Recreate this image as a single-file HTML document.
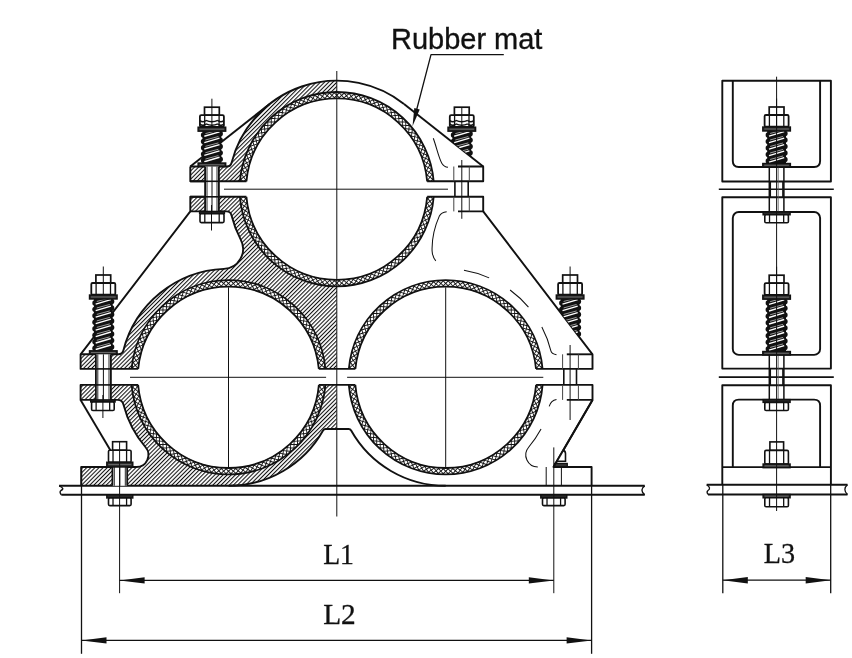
<!DOCTYPE html>
<html><head><meta charset="utf-8"><style>html,body{margin:0;padding:0;background:#fff;width:852px;height:658px;overflow:hidden}</style></head>
<body>
<svg width="852" height="658" viewBox="0 0 852 658" style="display:block;will-change:transform">
<defs>
<pattern id="hatch" width="2.9" height="2.9" patternUnits="userSpaceOnUse" patternTransform="rotate(-45)"><rect width="2.9" height="2.9" fill="#fff"/><rect x="0" y="0" width="2.9" height="1.05" fill="#111"/></pattern>
<pattern id="rub" width="3.46" height="3.46" patternUnits="userSpaceOnUse" patternTransform="rotate(45)"><rect width="3.46" height="3.46" fill="#111"/><rect x="0.55" y="0.55" width="2.36" height="2.36" fill="#fff"/></pattern>
<clipPath id="cTop"><rect x="0" y="0" width="336.8" height="181.3"/></clipPath>
<clipPath id="cMid"><rect x="0" y="196.8" width="336.8" height="172.1"/></clipPath>
<clipPath id="cBot"><rect x="0" y="384.9" width="336.8" height="100.9"/></clipPath>
</defs>
<rect width="852" height="658" fill="#fff"/>
<g clip-path="url(#cTop)">
<circle cx="336.8" cy="189.2" r="108.5" fill="url(#hatch)" stroke="none"/>
<rect x="190.3" y="166.5" width="60" height="20" fill="url(#hatch)" stroke="none"/>
<path d="M226.73 166.5 L230.7 166.5 L231.58 162.72 A5 5 0 0 1 226.73 166.5 Z" fill="url(#hatch)" stroke="none"/>
</g>
<g clip-path="url(#cMid)">
<circle cx="336.8" cy="189.2" r="108.5" fill="url(#hatch)" stroke="none"/>
<circle cx="228.5" cy="377.3" r="108.5" fill="url(#hatch)" stroke="none"/>
<rect x="190.3" y="195" width="60" height="16.4" fill="url(#hatch)" stroke="none"/>
<rect x="80.6" y="354.3" width="60" height="16" fill="url(#hatch)" stroke="none"/>
<path d="M336.8 189.2 L240.73 239.62 A20 20 0 0 1 223.87 268.9 L228.5 377.3 L336.8 377.3 Z" fill="url(#hatch)" stroke="none"/>
<path d="M226.61 211.4 L230.6 211.4 L231.46 215.2 A5 5 0 0 0 226.61 211.4 Z" fill="url(#hatch)" stroke="none"/>
<path d="M118.51 354.3 L122.47 354.3 L123.35 350.53 A5 5 0 0 1 118.51 354.3 Z" fill="url(#hatch)" stroke="none"/>
</g>
<g clip-path="url(#cBot)">
<circle cx="228.5" cy="377.3" r="108.5" fill="url(#hatch)" stroke="none"/>
<rect x="80.6" y="383" width="60" height="16.9" fill="url(#hatch)" stroke="none"/>
<rect x="228.5" y="383" width="108.3" height="46" fill="url(#hatch)" stroke="none"/>
<rect x="81.2" y="467.0" width="147.3" height="19.8" fill="url(#hatch)" stroke="none"/>
<path d="M117.63 399.9 L122.38 399.9 L123.44 404.4 A6 6 0 0 0 117.63 399.9 Z" fill="url(#hatch)" stroke="none"/>
<path d="M136.4 467 L167.46 467 L145.57 447.26 A12 12 0 0 1 136.4 467 Z" fill="url(#hatch)" stroke="none"/>
</g>
<circle cx="336.8" cy="189.2" r="90.5" fill="#fff"/>
<rect x="238.6" y="181.3" width="196.4" height="15.5" fill="#fff"/>
<clipPath id="cb33"><path d="M239.92 181.3 A97.2 97.2 0 0 1 433.68 181.3 L427.16 181.3 A90.7 90.7 0 0 0 246.44 181.3 Z"/></clipPath>
<path d="M239.92 181.3 A97.2 97.2 0 0 1 433.68 181.3 L427.16 181.3 A90.7 90.7 0 0 0 246.44 181.3 Z" fill="#151515" stroke="none"/>
<path d="M241.6 179.4 L243.5 177.8 L245.1 179.7 L243.2 181.3ZM242.2 174.5 L244.3 173.0 L245.7 175.0 L243.7 176.5ZM243.1 169.6 L245.2 168.3 L246.5 170.3 L244.5 171.7ZM244.3 164.8 L246.4 163.6 L247.6 165.7 L245.5 167.0ZM245.6 160.1 L247.8 159.0 L249.0 161.2 L246.8 162.3ZM247.3 155.4 L249.5 154.4 L250.5 156.7 L248.3 157.7ZM249.1 150.9 L251.4 150.0 L252.3 152.3 L250.0 153.2ZM251.2 146.4 L253.6 145.6 L254.3 148.0 L252.0 148.8ZM253.5 142.1 L255.9 141.4 L256.6 143.8 L254.2 144.5ZM256.1 137.8 L258.5 137.3 L259.0 139.7 L256.6 140.3ZM258.8 133.7 L261.3 133.3 L261.7 135.8 L259.2 136.2ZM261.8 129.8 L264.2 129.5 L264.5 132.0 L262.1 132.3ZM264.9 126.0 L267.4 125.9 L267.5 128.3 L265.1 128.5ZM268.3 122.4 L270.8 122.4 L270.8 124.8 L268.3 124.9ZM271.8 119.0 L274.3 119.1 L274.2 121.5 L271.7 121.5ZM275.5 115.7 L278.0 115.9 L277.7 118.4 L275.3 118.2ZM279.4 112.7 L281.8 113.0 L281.5 115.5 L279.0 115.1ZM283.4 109.8 L285.8 110.3 L285.3 112.7 L282.9 112.2ZM287.5 107.2 L289.9 107.8 L289.3 110.2 L286.9 109.6ZM291.8 104.7 L294.2 105.5 L293.5 107.8 L291.1 107.1ZM296.2 102.5 L298.6 103.4 L297.7 105.7 L295.4 104.9ZM300.7 100.6 L303.0 101.5 L302.1 103.8 L299.8 102.8ZM305.4 98.8 L307.6 99.9 L306.5 102.1 L304.3 101.1ZM310.1 97.3 L312.2 98.5 L311.0 100.7 L308.9 99.5ZM314.8 96.1 L316.9 97.4 L315.6 99.5 L313.5 98.2ZM319.6 95.1 L321.7 96.5 L320.3 98.5 L318.2 97.1ZM324.5 94.3 L326.5 95.8 L325.0 97.8 L323.0 96.3ZM329.4 93.8 L331.3 95.4 L329.7 97.3 L327.8 95.7ZM334.3 93.5 L336.1 95.3 L334.4 97.0 L332.6 95.3ZM339.3 93.5 L341.0 95.3 L339.2 97.0 L337.5 95.3ZM344.2 93.8 L345.8 95.7 L343.9 97.3 L342.3 95.4ZM349.1 94.3 L350.6 96.3 L348.6 97.8 L347.1 95.8ZM354.0 95.1 L355.4 97.1 L353.3 98.5 L351.9 96.5ZM358.8 96.1 L360.1 98.2 L358.0 99.5 L356.7 97.4ZM363.5 97.3 L364.7 99.5 L362.6 100.7 L361.4 98.5ZM368.2 98.8 L369.3 101.1 L367.1 102.1 L366.0 99.9ZM372.9 100.6 L373.8 102.8 L371.5 103.8 L370.6 101.5ZM377.4 102.5 L378.2 104.9 L375.9 105.7 L375.0 103.4ZM381.8 104.7 L382.5 107.1 L380.1 107.8 L379.4 105.5ZM386.1 107.2 L386.7 109.6 L384.3 110.2 L383.7 107.8ZM390.2 109.8 L390.7 112.2 L388.3 112.7 L387.8 110.3ZM394.2 112.7 L394.6 115.1 L392.1 115.5 L391.8 113.0ZM398.1 115.7 L398.3 118.2 L395.9 118.4 L395.6 115.9ZM401.8 119.0 L401.9 121.5 L399.4 121.5 L399.3 119.1ZM405.3 122.4 L405.3 124.9 L402.8 124.8 L402.8 122.4ZM408.7 126.0 L408.5 128.5 L406.1 128.3 L406.2 125.9ZM411.8 129.8 L411.5 132.3 L409.1 132.0 L409.4 129.5ZM414.8 133.7 L414.4 136.2 L411.9 135.8 L412.3 133.3ZM417.5 137.8 L417.0 140.3 L414.6 139.7 L415.1 137.3ZM420.1 142.1 L419.4 144.5 L417.0 143.8 L417.7 141.4ZM422.4 146.4 L421.6 148.8 L419.3 148.0 L420.0 145.6ZM424.5 150.9 L423.6 153.2 L421.3 152.3 L422.2 150.0ZM426.3 155.4 L425.3 157.7 L423.1 156.7 L424.1 154.4ZM428.0 160.1 L426.8 162.3 L424.6 161.2 L425.8 159.0ZM429.3 164.8 L428.1 167.0 L426.0 165.7 L427.2 163.6ZM430.5 169.6 L429.1 171.7 L427.1 170.3 L428.4 168.3ZM431.4 174.5 L429.9 176.5 L427.9 175.0 L429.3 173.0ZM432.0 179.4 L430.4 181.3 L428.5 179.7 L430.1 177.8ZM243.8 182.0 L245.7 180.4 L247.3 182.3 L245.4 183.9ZM244.3 177.2 L246.2 175.7 L247.7 177.7 L245.8 179.2ZM245.0 172.5 L247.1 171.1 L248.5 173.1 L246.4 174.5ZM246.0 167.8 L248.1 166.5 L249.4 168.6 L247.3 169.9ZM247.2 163.1 L249.4 161.9 L250.6 164.1 L248.4 165.3ZM248.7 158.5 L250.9 157.5 L252.0 159.7 L249.8 160.8ZM250.4 154.1 L252.7 153.1 L253.6 155.4 L251.4 156.3ZM252.3 149.6 L254.6 148.8 L255.5 151.1 L253.2 152.0ZM254.4 145.4 L256.8 144.6 L257.5 147.0 L255.2 147.7ZM256.8 141.2 L259.2 140.6 L259.8 143.0 L257.4 143.6ZM259.4 137.1 L261.8 136.7 L262.3 139.1 L259.9 139.6ZM262.2 133.2 L264.6 132.9 L265.0 135.3 L262.5 135.7ZM265.2 129.4 L267.6 129.2 L267.8 131.7 L265.4 131.9ZM268.3 125.8 L270.8 125.7 L270.9 128.2 L268.4 128.3ZM271.7 122.4 L274.2 122.4 L274.1 124.9 L271.7 124.9ZM275.2 119.1 L277.7 119.3 L277.5 121.7 L275.1 121.6ZM278.9 116.0 L281.4 116.3 L281.1 118.8 L278.6 118.5ZM282.7 113.2 L285.2 113.6 L284.8 116.0 L282.3 115.6ZM286.7 110.5 L289.2 111.0 L288.6 113.4 L286.2 112.9ZM290.8 108.0 L293.2 108.7 L292.6 111.0 L290.2 110.4ZM295.1 105.7 L297.4 106.5 L296.7 108.9 L294.3 108.1ZM299.4 103.7 L301.7 104.6 L300.8 106.9 L298.5 106.0ZM303.9 101.9 L306.1 102.9 L305.1 105.2 L302.9 104.2ZM308.4 100.3 L310.6 101.5 L309.5 103.7 L307.3 102.5ZM313.0 99.0 L315.2 100.2 L313.9 102.4 L311.8 101.1ZM317.7 97.9 L319.8 99.2 L318.4 101.3 L316.4 100.0ZM322.4 97.0 L324.4 98.5 L323.0 100.5 L321.0 99.0ZM327.2 96.4 L329.1 98.0 L327.6 99.9 L325.6 98.3ZM332.0 96.0 L333.8 97.7 L332.2 99.5 L330.3 97.9ZM336.8 95.9 L338.5 97.7 L336.8 99.4 L335.1 97.7ZM341.6 96.0 L343.3 97.9 L341.4 99.5 L339.8 97.7ZM346.4 96.4 L348.0 98.3 L346.0 99.9 L344.5 98.0ZM351.2 97.0 L352.6 99.0 L350.6 100.5 L349.2 98.5ZM355.9 97.9 L357.2 100.0 L355.2 101.3 L353.8 99.2ZM360.6 99.0 L361.8 101.1 L359.7 102.4 L358.4 100.2ZM365.2 100.3 L366.3 102.5 L364.1 103.7 L363.0 101.5ZM369.7 101.9 L370.7 104.2 L368.5 105.2 L367.5 102.9ZM374.2 103.7 L375.1 106.0 L372.8 106.9 L371.9 104.6ZM378.5 105.7 L379.3 108.1 L376.9 108.9 L376.2 106.5ZM382.8 108.0 L383.4 110.4 L381.0 111.0 L380.4 108.7ZM386.9 110.5 L387.4 112.9 L385.0 113.4 L384.4 111.0ZM390.9 113.2 L391.3 115.6 L388.8 116.0 L388.4 113.6ZM394.7 116.0 L395.0 118.5 L392.5 118.8 L392.2 116.3ZM398.4 119.1 L398.5 121.6 L396.1 121.7 L395.9 119.3ZM401.9 122.4 L401.9 124.9 L399.5 124.9 L399.4 122.4ZM405.3 125.8 L405.2 128.3 L402.7 128.2 L402.8 125.7ZM408.4 129.4 L408.2 131.9 L405.8 131.7 L406.0 129.2ZM411.4 133.2 L411.1 135.7 L408.6 135.3 L409.0 132.9ZM414.2 137.1 L413.7 139.6 L411.3 139.1 L411.8 136.7ZM416.8 141.2 L416.2 143.6 L413.8 143.0 L414.4 140.6ZM419.2 145.4 L418.4 147.7 L416.1 147.0 L416.8 144.6ZM421.3 149.6 L420.4 152.0 L418.1 151.1 L419.0 148.8ZM423.2 154.1 L422.2 156.3 L420.0 155.4 L420.9 153.1ZM424.9 158.5 L423.8 160.8 L421.6 159.7 L422.7 157.5ZM426.4 163.1 L425.2 165.3 L423.0 164.1 L424.2 161.9ZM427.6 167.8 L426.3 169.9 L424.2 168.6 L425.5 166.5ZM428.6 172.5 L427.2 174.5 L425.1 173.1 L426.5 171.1ZM429.3 177.2 L427.8 179.2 L425.9 177.7 L427.4 175.7ZM429.8 182.0 L428.2 183.9 L426.3 182.3 L427.9 180.4ZM239.0 181.6 L240.9 180.0 L242.5 181.9 L240.6 183.5ZM239.5 176.6 L241.5 175.1 L243.0 177.1 L241.0 178.6ZM240.3 171.6 L242.3 170.2 L243.7 172.2 L241.7 173.7ZM241.3 166.7 L243.4 165.4 L244.7 167.5 L242.6 168.8ZM242.6 161.8 L244.8 160.6 L246.0 162.8 L243.8 164.0ZM244.1 157.0 L246.4 155.9 L247.5 158.1 L245.2 159.2ZM245.9 152.2 L248.2 151.3 L249.2 153.6 L246.9 154.5ZM248.0 147.6 L250.3 146.8 L251.1 149.1 L248.8 149.9ZM250.2 143.1 L252.6 142.4 L253.3 144.7 L250.9 145.5ZM252.7 138.7 L255.1 138.1 L255.7 140.5 L253.3 141.1ZM255.4 134.4 L257.9 134.0 L258.3 136.4 L255.9 136.9ZM258.3 130.3 L260.8 130.0 L261.1 132.4 L258.7 132.8ZM261.5 126.4 L263.9 126.1 L264.2 128.6 L261.7 128.8ZM264.8 122.6 L267.3 122.5 L267.4 124.9 L264.9 125.0ZM268.3 118.9 L270.8 119.0 L270.8 121.5 L268.3 121.4ZM272.0 115.5 L274.5 115.7 L274.3 118.1 L271.9 118.0ZM275.9 112.3 L278.4 112.6 L278.1 115.0 L275.6 114.7ZM280.0 109.2 L282.4 109.7 L282.0 112.1 L279.6 111.7ZM284.2 106.4 L286.6 107.0 L286.0 109.4 L283.6 108.9ZM288.5 103.8 L290.9 104.5 L290.2 106.9 L287.8 106.2ZM292.9 101.5 L295.3 102.2 L294.5 104.6 L292.2 103.8ZM297.5 99.3 L299.8 100.2 L298.9 102.5 L296.6 101.6ZM302.2 97.4 L304.5 98.4 L303.4 100.7 L301.2 99.7ZM307.0 95.7 L309.2 96.9 L308.0 99.1 L305.8 98.0ZM311.8 94.3 L314.0 95.6 L312.7 97.7 L310.6 96.5ZM316.7 93.2 L318.8 94.5 L317.4 96.6 L315.4 95.3ZM321.7 92.3 L323.7 93.7 L322.2 95.7 L320.2 94.3ZM326.7 91.6 L328.6 93.2 L327.1 95.1 L325.2 93.6ZM331.7 91.2 L333.6 92.9 L331.9 94.7 L330.1 93.1ZM336.8 91.1 L338.5 92.9 L336.8 94.6 L335.1 92.9ZM341.9 91.2 L343.5 93.1 L341.7 94.7 L340.0 92.9ZM346.9 91.6 L348.4 93.6 L346.5 95.1 L345.0 93.2ZM351.9 92.3 L353.4 94.3 L351.4 95.7 L349.9 93.7ZM356.9 93.2 L358.2 95.3 L356.2 96.6 L354.8 94.5ZM361.8 94.3 L363.0 96.5 L360.9 97.7 L359.6 95.6ZM366.6 95.7 L367.8 98.0 L365.6 99.1 L364.4 96.9ZM371.4 97.4 L372.4 99.7 L370.2 100.7 L369.1 98.4ZM376.1 99.3 L377.0 101.6 L374.7 102.5 L373.8 100.2ZM380.7 101.5 L381.4 103.8 L379.1 104.6 L378.3 102.2ZM385.1 103.8 L385.8 106.2 L383.4 106.9 L382.7 104.5ZM389.4 106.4 L390.0 108.9 L387.6 109.4 L387.0 107.0ZM393.6 109.2 L394.0 111.7 L391.6 112.1 L391.2 109.7ZM397.7 112.3 L398.0 114.7 L395.5 115.0 L395.2 112.6ZM401.6 115.5 L401.7 118.0 L399.3 118.1 L399.1 115.7ZM405.3 118.9 L405.3 121.4 L402.8 121.5 L402.8 119.0ZM408.8 122.6 L408.7 125.0 L406.2 124.9 L406.3 122.5ZM412.1 126.4 L411.9 128.8 L409.4 128.6 L409.7 126.1ZM415.3 130.3 L414.9 132.8 L412.5 132.4 L412.8 130.0ZM418.2 134.4 L417.7 136.9 L415.3 136.4 L415.7 134.0ZM420.9 138.7 L420.3 141.1 L417.9 140.5 L418.5 138.1ZM423.4 143.1 L422.7 145.5 L420.3 144.7 L421.0 142.4ZM425.6 147.6 L424.8 149.9 L422.5 149.1 L423.3 146.8ZM427.7 152.2 L426.7 154.5 L424.4 153.6 L425.4 151.3ZM429.5 157.0 L428.4 159.2 L426.1 158.1 L427.2 155.9ZM431.0 161.8 L429.8 164.0 L427.6 162.8 L428.8 160.6ZM432.3 166.7 L431.0 168.8 L428.9 167.5 L430.2 165.4ZM433.3 171.6 L431.9 173.7 L429.9 172.2 L431.3 170.2ZM434.1 176.6 L432.6 178.6 L430.6 177.1 L432.1 175.1ZM434.6 181.6 L433.0 183.5 L431.1 181.9 L432.7 180.0Z" fill="#fff" clip-path="url(#cb33)"/>
<clipPath id="cb36"><path d="M433.7 196.8 A97.2 97.2 0 0 1 239.9 196.8 L246.42 196.8 A90.7 90.7 0 0 0 427.18 196.8 Z"/></clipPath>
<path d="M433.7 196.8 A97.2 97.2 0 0 1 239.9 196.8 L246.42 196.8 A90.7 90.7 0 0 0 427.18 196.8 Z" fill="#151515" stroke="none"/>
<path d="M432.0 199.0 L430.1 200.6 L428.5 198.7 L430.4 197.1ZM431.4 203.9 L429.3 205.4 L427.9 203.4 L429.9 201.9ZM430.5 208.8 L428.4 210.1 L427.1 208.1 L429.1 206.7ZM429.3 213.6 L427.2 214.8 L426.0 212.7 L428.1 211.4ZM428.0 218.3 L425.8 219.4 L424.6 217.2 L426.8 216.1ZM426.3 223.0 L424.1 224.0 L423.1 221.7 L425.3 220.7ZM424.5 227.5 L422.2 228.4 L421.3 226.1 L423.6 225.2ZM422.4 232.0 L420.0 232.8 L419.3 230.4 L421.6 229.6ZM420.1 236.3 L417.7 237.0 L417.0 234.6 L419.4 233.9ZM417.5 240.6 L415.1 241.1 L414.6 238.7 L417.0 238.1ZM414.8 244.7 L412.3 245.1 L411.9 242.6 L414.4 242.2ZM411.8 248.6 L409.4 248.9 L409.1 246.4 L411.5 246.1ZM408.7 252.4 L406.2 252.5 L406.1 250.1 L408.5 249.9ZM405.3 256.0 L402.8 256.0 L402.8 253.6 L405.3 253.5ZM401.8 259.4 L399.3 259.3 L399.4 256.9 L401.9 256.9ZM398.1 262.7 L395.6 262.5 L395.9 260.0 L398.3 260.2ZM394.2 265.7 L391.8 265.4 L392.1 262.9 L394.6 263.3ZM390.2 268.6 L387.8 268.1 L388.3 265.7 L390.7 266.2ZM386.1 271.2 L383.7 270.6 L384.3 268.2 L386.7 268.8ZM381.8 273.7 L379.4 272.9 L380.1 270.6 L382.5 271.3ZM377.4 275.9 L375.0 275.0 L375.9 272.7 L378.2 273.5ZM372.9 277.8 L370.6 276.9 L371.5 274.6 L373.8 275.6ZM368.2 279.6 L366.0 278.5 L367.1 276.3 L369.3 277.3ZM363.5 281.1 L361.4 279.9 L362.6 277.7 L364.7 278.9ZM358.8 282.3 L356.7 281.0 L358.0 278.9 L360.1 280.2ZM354.0 283.3 L351.9 281.9 L353.3 279.9 L355.4 281.3ZM349.1 284.1 L347.1 282.6 L348.6 280.6 L350.6 282.1ZM344.2 284.6 L342.3 283.0 L343.9 281.1 L345.8 282.7ZM339.3 284.9 L337.5 283.1 L339.2 281.4 L341.0 283.1ZM334.3 284.9 L332.6 283.1 L334.4 281.4 L336.1 283.1ZM329.4 284.6 L327.8 282.7 L329.7 281.1 L331.3 283.0ZM324.5 284.1 L323.0 282.1 L325.0 280.6 L326.5 282.6ZM319.6 283.3 L318.2 281.3 L320.3 279.9 L321.7 281.9ZM314.8 282.3 L313.5 280.2 L315.6 278.9 L316.9 281.0ZM310.1 281.1 L308.9 278.9 L311.0 277.7 L312.2 279.9ZM305.4 279.6 L304.3 277.3 L306.5 276.3 L307.6 278.5ZM300.7 277.8 L299.8 275.6 L302.1 274.6 L303.0 276.9ZM296.2 275.9 L295.4 273.5 L297.7 272.7 L298.6 275.0ZM291.8 273.7 L291.1 271.3 L293.5 270.6 L294.2 272.9ZM287.5 271.2 L286.9 268.8 L289.3 268.2 L289.9 270.6ZM283.4 268.6 L282.9 266.2 L285.3 265.7 L285.8 268.1ZM279.4 265.7 L279.0 263.3 L281.5 262.9 L281.8 265.4ZM275.5 262.7 L275.3 260.2 L277.7 260.0 L278.0 262.5ZM271.8 259.4 L271.7 256.9 L274.2 256.9 L274.3 259.3ZM268.3 256.0 L268.3 253.5 L270.8 253.6 L270.8 256.0ZM264.9 252.4 L265.1 249.9 L267.5 250.1 L267.4 252.5ZM261.8 248.6 L262.1 246.1 L264.5 246.4 L264.2 248.9ZM258.8 244.7 L259.2 242.2 L261.7 242.6 L261.3 245.1ZM256.1 240.6 L256.6 238.1 L259.0 238.7 L258.5 241.1ZM253.5 236.3 L254.2 233.9 L256.6 234.6 L255.9 237.0ZM251.2 232.0 L252.0 229.6 L254.3 230.4 L253.6 232.8ZM249.1 227.5 L250.0 225.2 L252.3 226.1 L251.4 228.4ZM247.3 223.0 L248.3 220.7 L250.5 221.7 L249.5 224.0ZM245.6 218.3 L246.8 216.1 L249.0 217.2 L247.8 219.4ZM244.3 213.6 L245.5 211.4 L247.6 212.7 L246.4 214.8ZM243.1 208.8 L244.5 206.7 L246.5 208.1 L245.2 210.1ZM242.2 203.9 L243.7 201.9 L245.7 203.4 L244.3 205.4ZM241.6 199.0 L243.2 197.1 L245.1 198.7 L243.5 200.6ZM429.8 196.4 L427.9 198.0 L426.3 196.1 L428.2 194.5ZM429.3 201.2 L427.4 202.7 L425.9 200.7 L427.8 199.2ZM428.6 205.9 L426.5 207.3 L425.1 205.3 L427.2 203.9ZM427.6 210.6 L425.5 211.9 L424.2 209.8 L426.3 208.5ZM426.4 215.3 L424.2 216.5 L423.0 214.3 L425.2 213.1ZM424.9 219.9 L422.7 220.9 L421.6 218.7 L423.8 217.6ZM423.2 224.3 L420.9 225.3 L420.0 223.0 L422.2 222.1ZM421.3 228.8 L419.0 229.6 L418.1 227.3 L420.4 226.4ZM419.2 233.0 L416.8 233.8 L416.1 231.4 L418.4 230.7ZM416.8 237.2 L414.4 237.8 L413.8 235.4 L416.2 234.8ZM414.2 241.3 L411.8 241.7 L411.3 239.3 L413.7 238.8ZM411.4 245.2 L409.0 245.5 L408.6 243.1 L411.1 242.7ZM408.4 249.0 L406.0 249.2 L405.8 246.7 L408.2 246.5ZM405.3 252.6 L402.8 252.7 L402.7 250.2 L405.2 250.1ZM401.9 256.0 L399.4 256.0 L399.5 253.5 L401.9 253.5ZM398.4 259.3 L395.9 259.1 L396.1 256.7 L398.5 256.8ZM394.7 262.4 L392.2 262.1 L392.5 259.6 L395.0 259.9ZM390.9 265.2 L388.4 264.8 L388.8 262.4 L391.3 262.8ZM386.9 267.9 L384.4 267.4 L385.0 265.0 L387.4 265.5ZM382.8 270.4 L380.4 269.7 L381.0 267.4 L383.4 268.0ZM378.5 272.7 L376.2 271.9 L376.9 269.5 L379.3 270.3ZM374.2 274.7 L371.9 273.8 L372.8 271.5 L375.1 272.4ZM369.7 276.5 L367.5 275.5 L368.5 273.2 L370.7 274.2ZM365.2 278.1 L363.0 276.9 L364.1 274.7 L366.3 275.9ZM360.6 279.4 L358.4 278.2 L359.7 276.0 L361.8 277.3ZM355.9 280.5 L353.8 279.2 L355.2 277.1 L357.2 278.4ZM351.2 281.4 L349.2 279.9 L350.6 277.9 L352.6 279.4ZM346.4 282.0 L344.5 280.4 L346.0 278.5 L348.0 280.1ZM341.6 282.4 L339.8 280.7 L341.4 278.9 L343.3 280.5ZM336.8 282.5 L335.1 280.7 L336.8 279.0 L338.5 280.7ZM332.0 282.4 L330.3 280.5 L332.2 278.9 L333.8 280.7ZM327.2 282.0 L325.6 280.1 L327.6 278.5 L329.1 280.4ZM322.4 281.4 L321.0 279.4 L323.0 277.9 L324.4 279.9ZM317.7 280.5 L316.4 278.4 L318.4 277.1 L319.8 279.2ZM313.0 279.4 L311.8 277.3 L313.9 276.0 L315.2 278.2ZM308.4 278.1 L307.3 275.9 L309.5 274.7 L310.6 276.9ZM303.9 276.5 L302.9 274.2 L305.1 273.2 L306.1 275.5ZM299.4 274.7 L298.5 272.4 L300.8 271.5 L301.7 273.8ZM295.1 272.7 L294.3 270.3 L296.7 269.5 L297.4 271.9ZM290.8 270.4 L290.2 268.0 L292.6 267.4 L293.2 269.7ZM286.7 267.9 L286.2 265.5 L288.6 265.0 L289.2 267.4ZM282.7 265.2 L282.3 262.8 L284.8 262.4 L285.2 264.8ZM278.9 262.4 L278.6 259.9 L281.1 259.6 L281.4 262.1ZM275.2 259.3 L275.1 256.8 L277.5 256.7 L277.7 259.1ZM271.7 256.0 L271.7 253.5 L274.1 253.5 L274.2 256.0ZM268.3 252.6 L268.4 250.1 L270.9 250.2 L270.8 252.7ZM265.2 249.0 L265.4 246.5 L267.8 246.7 L267.6 249.2ZM262.2 245.2 L262.5 242.7 L265.0 243.1 L264.6 245.5ZM259.4 241.3 L259.9 238.8 L262.3 239.3 L261.8 241.7ZM256.8 237.2 L257.4 234.8 L259.8 235.4 L259.2 237.8ZM254.4 233.0 L255.2 230.7 L257.5 231.4 L256.8 233.8ZM252.3 228.8 L253.2 226.4 L255.5 227.3 L254.6 229.6ZM250.4 224.3 L251.4 222.1 L253.6 223.0 L252.7 225.3ZM248.7 219.9 L249.8 217.6 L252.0 218.7 L250.9 220.9ZM247.2 215.3 L248.4 213.1 L250.6 214.3 L249.4 216.5ZM246.0 210.6 L247.3 208.5 L249.4 209.8 L248.1 211.9ZM245.0 205.9 L246.4 203.9 L248.5 205.3 L247.1 207.3ZM244.3 201.2 L245.8 199.2 L247.7 200.7 L246.2 202.7ZM243.8 196.4 L245.4 194.5 L247.3 196.1 L245.7 198.0ZM434.6 196.8 L432.7 198.4 L431.1 196.5 L433.0 194.9ZM434.1 201.8 L432.1 203.3 L430.6 201.3 L432.6 199.8ZM433.3 206.8 L431.3 208.2 L429.9 206.2 L431.9 204.7ZM432.3 211.7 L430.2 213.0 L428.9 210.9 L431.0 209.6ZM431.0 216.6 L428.8 217.8 L427.6 215.6 L429.8 214.4ZM429.5 221.4 L427.2 222.5 L426.1 220.3 L428.4 219.2ZM427.7 226.2 L425.4 227.1 L424.4 224.8 L426.7 223.9ZM425.6 230.8 L423.3 231.6 L422.5 229.3 L424.8 228.5ZM423.4 235.3 L421.0 236.0 L420.3 233.7 L422.7 232.9ZM420.9 239.7 L418.5 240.3 L417.9 237.9 L420.3 237.3ZM418.2 244.0 L415.7 244.4 L415.3 242.0 L417.7 241.5ZM415.3 248.1 L412.8 248.4 L412.5 246.0 L414.9 245.6ZM412.1 252.0 L409.7 252.3 L409.4 249.8 L411.9 249.6ZM408.8 255.8 L406.3 255.9 L406.2 253.5 L408.7 253.4ZM405.3 259.5 L402.8 259.4 L402.8 256.9 L405.3 257.0ZM401.6 262.9 L399.1 262.7 L399.3 260.3 L401.7 260.4ZM397.7 266.1 L395.2 265.8 L395.5 263.4 L398.0 263.7ZM393.6 269.2 L391.2 268.7 L391.6 266.3 L394.0 266.7ZM389.4 272.0 L387.0 271.4 L387.6 269.0 L390.0 269.5ZM385.1 274.6 L382.7 273.9 L383.4 271.5 L385.8 272.2ZM380.7 276.9 L378.3 276.2 L379.1 273.8 L381.4 274.6ZM376.1 279.1 L373.8 278.2 L374.7 275.9 L377.0 276.8ZM371.4 281.0 L369.1 280.0 L370.2 277.7 L372.4 278.7ZM366.6 282.7 L364.4 281.5 L365.6 279.3 L367.8 280.4ZM361.8 284.1 L359.6 282.8 L360.9 280.7 L363.0 281.9ZM356.9 285.2 L354.8 283.9 L356.2 281.8 L358.2 283.1ZM351.9 286.1 L349.9 284.7 L351.4 282.7 L353.4 284.1ZM346.9 286.8 L345.0 285.2 L346.5 283.3 L348.4 284.8ZM341.9 287.2 L340.0 285.5 L341.7 283.7 L343.5 285.3ZM336.8 287.3 L335.1 285.5 L336.8 283.8 L338.5 285.5ZM331.7 287.2 L330.1 285.3 L331.9 283.7 L333.6 285.5ZM326.7 286.8 L325.2 284.8 L327.1 283.3 L328.6 285.2ZM321.7 286.1 L320.2 284.1 L322.2 282.7 L323.7 284.7ZM316.7 285.2 L315.4 283.1 L317.4 281.8 L318.8 283.9ZM311.8 284.1 L310.6 281.9 L312.7 280.7 L314.0 282.8ZM307.0 282.7 L305.8 280.4 L308.0 279.3 L309.2 281.5ZM302.2 281.0 L301.2 278.7 L303.4 277.7 L304.5 280.0ZM297.5 279.1 L296.6 276.8 L298.9 275.9 L299.8 278.2ZM292.9 276.9 L292.2 274.6 L294.5 273.8 L295.3 276.2ZM288.5 274.6 L287.8 272.2 L290.2 271.5 L290.9 273.9ZM284.2 272.0 L283.6 269.5 L286.0 269.0 L286.6 271.4ZM280.0 269.2 L279.6 266.7 L282.0 266.3 L282.4 268.7ZM275.9 266.1 L275.6 263.7 L278.1 263.4 L278.4 265.8ZM272.0 262.9 L271.9 260.4 L274.3 260.3 L274.5 262.7ZM268.3 259.5 L268.3 257.0 L270.8 256.9 L270.8 259.4ZM264.8 255.8 L264.9 253.4 L267.4 253.5 L267.3 255.9ZM261.5 252.0 L261.7 249.6 L264.2 249.8 L263.9 252.3ZM258.3 248.1 L258.7 245.6 L261.1 246.0 L260.8 248.4ZM255.4 244.0 L255.9 241.5 L258.3 242.0 L257.9 244.4ZM252.7 239.7 L253.3 237.3 L255.7 237.9 L255.1 240.3ZM250.2 235.3 L250.9 232.9 L253.3 233.7 L252.6 236.0ZM248.0 230.8 L248.8 228.5 L251.1 229.3 L250.3 231.6ZM245.9 226.2 L246.9 223.9 L249.2 224.8 L248.2 227.1ZM244.1 221.4 L245.2 219.2 L247.5 220.3 L246.4 222.5ZM242.6 216.6 L243.8 214.4 L246.0 215.6 L244.8 217.8ZM241.3 211.7 L242.6 209.6 L244.7 210.9 L243.4 213.0ZM240.3 206.8 L241.7 204.7 L243.7 206.2 L242.3 208.2ZM239.5 201.8 L241.0 199.8 L243.0 201.3 L241.5 203.3ZM239.0 196.8 L240.6 194.9 L242.5 196.5 L240.9 198.4Z" fill="#fff" clip-path="url(#cb36)"/>
<path d="M246.44 181.3 A90.7 90.7 0 0 1 427.16 181.3" fill="none" stroke="#111" stroke-width="1.8" stroke-linejoin="round" />
<path d="M427.18 196.8 A90.7 90.7 0 0 1 246.42 196.8" fill="none" stroke="#111" stroke-width="1.8" stroke-linejoin="round" />
<path d="M239.92 181.3 A97.2 97.2 0 0 1 433.68 181.3" fill="none" stroke="#111" stroke-width="1.8" stroke-linejoin="round" />
<path d="M433.7 196.8 A97.2 97.2 0 0 1 239.9 196.8" fill="none" stroke="#111" stroke-width="1.8" stroke-linejoin="round" />
<circle cx="228.5" cy="377.3" r="90.5" fill="#fff"/>
<rect x="130.3" y="368.9" width="196.4" height="16" fill="#fff"/>
<clipPath id="cb45"><path d="M131.66 368.9 A97.2 97.2 0 0 1 325.34 368.9 L318.81 368.9 A90.7 90.7 0 0 0 138.19 368.9 Z"/></clipPath>
<path d="M131.66 368.9 A97.2 97.2 0 0 1 325.34 368.9 L318.81 368.9 A90.7 90.7 0 0 0 138.19 368.9 Z" fill="#151515" stroke="none"/>
<path d="M133.3 367.5 L135.2 365.9 L136.8 367.8 L134.9 369.4ZM133.9 362.6 L136.0 361.1 L137.4 363.1 L135.4 364.6ZM134.8 357.7 L136.9 356.4 L138.2 358.4 L136.2 359.8ZM136.0 352.9 L138.1 351.7 L139.3 353.8 L137.2 355.1ZM137.3 348.2 L139.5 347.1 L140.7 349.3 L138.5 350.4ZM139.0 343.5 L141.2 342.5 L142.2 344.8 L140.0 345.8ZM140.8 339.0 L143.1 338.1 L144.0 340.4 L141.7 341.3ZM142.9 334.5 L145.3 333.7 L146.0 336.1 L143.7 336.9ZM145.2 330.2 L147.6 329.5 L148.3 331.9 L145.9 332.6ZM147.8 325.9 L150.2 325.4 L150.7 327.8 L148.3 328.4ZM150.5 321.8 L153.0 321.4 L153.4 323.9 L150.9 324.3ZM153.5 317.9 L155.9 317.6 L156.2 320.1 L153.8 320.4ZM156.6 314.1 L159.1 314.0 L159.2 316.4 L156.8 316.6ZM160.0 310.5 L162.5 310.5 L162.5 312.9 L160.0 313.0ZM163.5 307.1 L166.0 307.2 L165.9 309.6 L163.4 309.6ZM167.2 303.8 L169.7 304.0 L169.4 306.5 L167.0 306.3ZM171.1 300.8 L173.5 301.1 L173.2 303.6 L170.7 303.2ZM175.1 297.9 L177.5 298.4 L177.0 300.8 L174.6 300.3ZM179.2 295.3 L181.6 295.9 L181.0 298.3 L178.6 297.7ZM183.5 292.8 L185.9 293.6 L185.2 295.9 L182.8 295.2ZM187.9 290.6 L190.3 291.5 L189.4 293.8 L187.1 293.0ZM192.4 288.7 L194.7 289.6 L193.8 291.9 L191.5 290.9ZM197.1 286.9 L199.3 288.0 L198.2 290.2 L196.0 289.2ZM201.8 285.4 L203.9 286.6 L202.7 288.8 L200.6 287.6ZM206.5 284.2 L208.6 285.5 L207.3 287.6 L205.2 286.3ZM211.3 283.2 L213.4 284.6 L212.0 286.6 L209.9 285.2ZM216.2 282.4 L218.2 283.9 L216.7 285.9 L214.7 284.4ZM221.1 281.9 L223.0 283.5 L221.4 285.4 L219.5 283.8ZM226.0 281.6 L227.8 283.4 L226.1 285.1 L224.3 283.4ZM231.0 281.6 L232.7 283.4 L230.9 285.1 L229.2 283.4ZM235.9 281.9 L237.5 283.8 L235.6 285.4 L234.0 283.5ZM240.8 282.4 L242.3 284.4 L240.3 285.9 L238.8 283.9ZM245.7 283.2 L247.1 285.2 L245.0 286.6 L243.6 284.6ZM250.5 284.2 L251.8 286.3 L249.7 287.6 L248.4 285.5ZM255.2 285.4 L256.4 287.6 L254.3 288.8 L253.1 286.6ZM259.9 286.9 L261.0 289.2 L258.8 290.2 L257.7 288.0ZM264.6 288.7 L265.5 290.9 L263.2 291.9 L262.3 289.6ZM269.1 290.6 L269.9 293.0 L267.6 293.8 L266.7 291.5ZM273.5 292.8 L274.2 295.2 L271.8 295.9 L271.1 293.6ZM277.8 295.3 L278.4 297.7 L276.0 298.3 L275.4 295.9ZM281.9 297.9 L282.4 300.3 L280.0 300.8 L279.5 298.4ZM285.9 300.8 L286.3 303.2 L283.8 303.6 L283.5 301.1ZM289.8 303.8 L290.0 306.3 L287.6 306.5 L287.3 304.0ZM293.5 307.1 L293.6 309.6 L291.1 309.6 L291.0 307.2ZM297.0 310.5 L297.0 313.0 L294.5 312.9 L294.5 310.5ZM300.4 314.1 L300.2 316.6 L297.8 316.4 L297.9 314.0ZM303.5 317.9 L303.2 320.4 L300.8 320.1 L301.1 317.6ZM306.5 321.8 L306.1 324.3 L303.6 323.9 L304.0 321.4ZM309.2 325.9 L308.7 328.4 L306.3 327.8 L306.8 325.4ZM311.8 330.2 L311.1 332.6 L308.7 331.9 L309.4 329.5ZM314.1 334.5 L313.3 336.9 L311.0 336.1 L311.7 333.7ZM316.2 339.0 L315.3 341.3 L313.0 340.4 L313.9 338.1ZM318.0 343.5 L317.0 345.8 L314.8 344.8 L315.8 342.5ZM319.7 348.2 L318.5 350.4 L316.3 349.3 L317.5 347.1ZM321.0 352.9 L319.8 355.1 L317.7 353.8 L318.9 351.7ZM322.2 357.7 L320.8 359.8 L318.8 358.4 L320.1 356.4ZM323.1 362.6 L321.6 364.6 L319.6 363.1 L321.0 361.1ZM323.7 367.5 L322.1 369.4 L320.2 367.8 L321.8 365.9ZM135.5 370.1 L137.4 368.5 L139.0 370.4 L137.1 372.0ZM136.0 365.3 L137.9 363.8 L139.4 365.8 L137.5 367.3ZM136.7 360.6 L138.8 359.2 L140.2 361.2 L138.1 362.6ZM137.7 355.9 L139.8 354.6 L141.1 356.7 L139.0 358.0ZM138.9 351.2 L141.1 350.0 L142.3 352.2 L140.1 353.4ZM140.4 346.6 L142.6 345.6 L143.7 347.8 L141.5 348.9ZM142.1 342.2 L144.4 341.2 L145.3 343.5 L143.1 344.4ZM144.0 337.7 L146.3 336.9 L147.2 339.2 L144.9 340.1ZM146.1 333.5 L148.5 332.7 L149.2 335.1 L146.9 335.8ZM148.5 329.3 L150.9 328.7 L151.5 331.1 L149.1 331.7ZM151.1 325.2 L153.5 324.8 L154.0 327.2 L151.6 327.7ZM153.9 321.3 L156.3 321.0 L156.7 323.4 L154.2 323.8ZM156.9 317.5 L159.3 317.3 L159.5 319.8 L157.1 320.0ZM160.0 313.9 L162.5 313.8 L162.6 316.3 L160.1 316.4ZM163.4 310.5 L165.9 310.5 L165.8 313.0 L163.4 313.0ZM166.9 307.2 L169.4 307.4 L169.2 309.8 L166.8 309.7ZM170.6 304.1 L173.1 304.4 L172.8 306.9 L170.3 306.6ZM174.4 301.3 L176.9 301.7 L176.5 304.1 L174.0 303.7ZM178.4 298.6 L180.9 299.1 L180.3 301.5 L177.9 301.0ZM182.5 296.1 L184.9 296.8 L184.3 299.1 L181.9 298.5ZM186.8 293.8 L189.1 294.6 L188.4 297.0 L186.0 296.2ZM191.1 291.8 L193.4 292.7 L192.5 295.0 L190.2 294.1ZM195.6 290.0 L197.8 291.0 L196.8 293.3 L194.6 292.3ZM200.1 288.4 L202.3 289.6 L201.2 291.8 L199.0 290.6ZM204.7 287.1 L206.9 288.3 L205.6 290.5 L203.5 289.2ZM209.4 286.0 L211.5 287.3 L210.1 289.4 L208.1 288.1ZM214.1 285.1 L216.1 286.6 L214.7 288.6 L212.7 287.1ZM218.9 284.5 L220.8 286.1 L219.3 288.0 L217.3 286.4ZM223.7 284.1 L225.5 285.8 L223.9 287.6 L222.0 286.0ZM228.5 284.0 L230.2 285.8 L228.5 287.5 L226.8 285.8ZM233.3 284.1 L235.0 286.0 L233.1 287.6 L231.5 285.8ZM238.1 284.5 L239.7 286.4 L237.7 288.0 L236.2 286.1ZM242.9 285.1 L244.3 287.1 L242.3 288.6 L240.9 286.6ZM247.6 286.0 L248.9 288.1 L246.9 289.4 L245.5 287.3ZM252.3 287.1 L253.5 289.2 L251.4 290.5 L250.1 288.3ZM256.9 288.4 L258.0 290.6 L255.8 291.8 L254.7 289.6ZM261.4 290.0 L262.4 292.3 L260.2 293.3 L259.2 291.0ZM265.9 291.8 L266.8 294.1 L264.5 295.0 L263.6 292.7ZM270.2 293.8 L271.0 296.2 L268.6 297.0 L267.9 294.6ZM274.5 296.1 L275.1 298.5 L272.7 299.1 L272.1 296.8ZM278.6 298.6 L279.1 301.0 L276.7 301.5 L276.1 299.1ZM282.6 301.3 L283.0 303.7 L280.5 304.1 L280.1 301.7ZM286.4 304.1 L286.7 306.6 L284.2 306.9 L283.9 304.4ZM290.1 307.2 L290.2 309.7 L287.8 309.8 L287.6 307.4ZM293.6 310.5 L293.6 313.0 L291.2 313.0 L291.1 310.5ZM297.0 313.9 L296.9 316.4 L294.4 316.3 L294.5 313.8ZM300.1 317.5 L299.9 320.0 L297.5 319.8 L297.7 317.3ZM303.1 321.3 L302.8 323.8 L300.3 323.4 L300.7 321.0ZM305.9 325.2 L305.4 327.7 L303.0 327.2 L303.5 324.8ZM308.5 329.3 L307.9 331.7 L305.5 331.1 L306.1 328.7ZM310.9 333.5 L310.1 335.8 L307.8 335.1 L308.5 332.7ZM313.0 337.7 L312.1 340.1 L309.8 339.2 L310.7 336.9ZM314.9 342.2 L313.9 344.4 L311.7 343.5 L312.6 341.2ZM316.6 346.6 L315.5 348.9 L313.3 347.8 L314.4 345.6ZM318.1 351.2 L316.9 353.4 L314.7 352.2 L315.9 350.0ZM319.3 355.9 L318.0 358.0 L315.9 356.7 L317.2 354.6ZM320.3 360.6 L318.9 362.6 L316.8 361.2 L318.2 359.2ZM321.0 365.3 L319.5 367.3 L317.6 365.8 L319.1 363.8ZM321.5 370.1 L319.9 372.0 L318.0 370.4 L319.6 368.5ZM130.7 369.7 L132.6 368.1 L134.2 370.0 L132.3 371.6ZM131.2 364.7 L133.2 363.2 L134.7 365.2 L132.7 366.7ZM132.0 359.7 L134.0 358.3 L135.4 360.3 L133.4 361.8ZM133.0 354.8 L135.1 353.5 L136.4 355.6 L134.3 356.9ZM134.3 349.9 L136.5 348.7 L137.7 350.9 L135.5 352.1ZM135.8 345.1 L138.1 344.0 L139.2 346.2 L136.9 347.3ZM137.6 340.3 L139.9 339.4 L140.9 341.7 L138.6 342.6ZM139.7 335.7 L142.0 334.9 L142.8 337.2 L140.5 338.0ZM141.9 331.2 L144.3 330.5 L145.0 332.8 L142.6 333.6ZM144.4 326.8 L146.8 326.2 L147.4 328.6 L145.0 329.2ZM147.1 322.5 L149.6 322.1 L150.0 324.5 L147.6 325.0ZM150.0 318.4 L152.5 318.1 L152.8 320.5 L150.4 320.9ZM153.2 314.5 L155.6 314.2 L155.9 316.7 L153.4 316.9ZM156.5 310.7 L159.0 310.6 L159.1 313.0 L156.6 313.1ZM160.0 307.0 L162.5 307.1 L162.5 309.6 L160.0 309.5ZM163.7 303.6 L166.2 303.8 L166.0 306.2 L163.6 306.1ZM167.6 300.4 L170.1 300.7 L169.8 303.1 L167.3 302.8ZM171.7 297.3 L174.1 297.8 L173.7 300.2 L171.3 299.8ZM175.9 294.5 L178.3 295.1 L177.7 297.5 L175.3 297.0ZM180.2 291.9 L182.6 292.6 L181.9 295.0 L179.5 294.3ZM184.6 289.6 L187.0 290.3 L186.2 292.7 L183.9 291.9ZM189.2 287.4 L191.5 288.3 L190.6 290.6 L188.3 289.7ZM193.9 285.5 L196.2 286.5 L195.1 288.8 L192.9 287.8ZM198.7 283.8 L200.9 285.0 L199.7 287.2 L197.5 286.1ZM203.5 282.4 L205.7 283.7 L204.4 285.8 L202.3 284.6ZM208.4 281.3 L210.5 282.6 L209.1 284.7 L207.1 283.4ZM213.4 280.4 L215.4 281.8 L213.9 283.8 L211.9 282.4ZM218.4 279.7 L220.3 281.3 L218.8 283.2 L216.9 281.7ZM223.4 279.3 L225.3 281.0 L223.6 282.8 L221.8 281.2ZM228.5 279.2 L230.2 281.0 L228.5 282.7 L226.8 281.0ZM233.6 279.3 L235.2 281.2 L233.4 282.8 L231.7 281.0ZM238.6 279.7 L240.1 281.7 L238.2 283.2 L236.7 281.3ZM243.6 280.4 L245.1 282.4 L243.1 283.8 L241.6 281.8ZM248.6 281.3 L249.9 283.4 L247.9 284.7 L246.5 282.6ZM253.5 282.4 L254.7 284.6 L252.6 285.8 L251.3 283.7ZM258.3 283.8 L259.5 286.1 L257.3 287.2 L256.1 285.0ZM263.1 285.5 L264.1 287.8 L261.9 288.8 L260.8 286.5ZM267.8 287.4 L268.7 289.7 L266.4 290.6 L265.5 288.3ZM272.4 289.6 L273.1 291.9 L270.8 292.7 L270.0 290.3ZM276.8 291.9 L277.5 294.3 L275.1 295.0 L274.4 292.6ZM281.1 294.5 L281.7 297.0 L279.3 297.5 L278.7 295.1ZM285.3 297.3 L285.7 299.8 L283.3 300.2 L282.9 297.8ZM289.4 300.4 L289.7 302.8 L287.2 303.1 L286.9 300.7ZM293.3 303.6 L293.4 306.1 L291.0 306.2 L290.8 303.8ZM297.0 307.0 L297.0 309.5 L294.5 309.6 L294.5 307.1ZM300.5 310.7 L300.4 313.1 L297.9 313.0 L298.0 310.6ZM303.8 314.5 L303.6 316.9 L301.1 316.7 L301.4 314.2ZM307.0 318.4 L306.6 320.9 L304.2 320.5 L304.5 318.1ZM309.9 322.5 L309.4 325.0 L307.0 324.5 L307.4 322.1ZM312.6 326.8 L312.0 329.2 L309.6 328.6 L310.2 326.2ZM315.1 331.2 L314.4 333.6 L312.0 332.8 L312.7 330.5ZM317.3 335.7 L316.5 338.0 L314.2 337.2 L315.0 334.9ZM319.4 340.3 L318.4 342.6 L316.1 341.7 L317.1 339.4ZM321.2 345.1 L320.1 347.3 L317.8 346.2 L318.9 344.0ZM322.7 349.9 L321.5 352.1 L319.3 350.9 L320.5 348.7ZM324.0 354.8 L322.7 356.9 L320.6 355.6 L321.9 353.5ZM325.0 359.7 L323.6 361.8 L321.6 360.3 L323.0 358.3ZM325.8 364.7 L324.3 366.7 L322.3 365.2 L323.8 363.2ZM326.3 369.7 L324.7 371.6 L322.8 370.0 L324.4 368.1Z" fill="#fff" clip-path="url(#cb45)"/>
<clipPath id="cb48"><path d="M325.4 384.9 A97.2 97.2 0 0 1 131.6 384.9 L138.12 384.9 A90.7 90.7 0 0 0 318.88 384.9 Z"/></clipPath>
<path d="M325.4 384.9 A97.2 97.2 0 0 1 131.6 384.9 L138.12 384.9 A90.7 90.7 0 0 0 318.88 384.9 Z" fill="#151515" stroke="none"/>
<path d="M323.7 387.1 L321.8 388.7 L320.2 386.8 L322.1 385.2ZM323.1 392.0 L321.0 393.5 L319.6 391.5 L321.6 390.0ZM322.2 396.9 L320.1 398.2 L318.8 396.2 L320.8 394.8ZM321.0 401.7 L318.9 402.9 L317.7 400.8 L319.8 399.5ZM319.7 406.4 L317.5 407.5 L316.3 405.3 L318.5 404.2ZM318.0 411.1 L315.8 412.1 L314.8 409.8 L317.0 408.8ZM316.2 415.6 L313.9 416.5 L313.0 414.2 L315.3 413.3ZM314.1 420.1 L311.7 420.9 L311.0 418.5 L313.3 417.7ZM311.8 424.4 L309.4 425.1 L308.7 422.7 L311.1 422.0ZM309.2 428.7 L306.8 429.2 L306.3 426.8 L308.7 426.2ZM306.5 432.8 L304.0 433.2 L303.6 430.7 L306.1 430.3ZM303.5 436.7 L301.1 437.0 L300.8 434.5 L303.2 434.2ZM300.4 440.5 L297.9 440.6 L297.8 438.2 L300.2 438.0ZM297.0 444.1 L294.5 444.1 L294.5 441.7 L297.0 441.6ZM293.5 447.5 L291.0 447.4 L291.1 445.0 L293.6 445.0ZM289.8 450.8 L287.3 450.6 L287.6 448.1 L290.0 448.3ZM285.9 453.8 L283.5 453.5 L283.8 451.0 L286.3 451.4ZM281.9 456.7 L279.5 456.2 L280.0 453.8 L282.4 454.3ZM277.8 459.3 L275.4 458.7 L276.0 456.3 L278.4 456.9ZM273.5 461.8 L271.1 461.0 L271.8 458.7 L274.2 459.4ZM269.1 464.0 L266.7 463.1 L267.6 460.8 L269.9 461.6ZM264.6 465.9 L262.3 465.0 L263.2 462.7 L265.5 463.7ZM259.9 467.7 L257.7 466.6 L258.8 464.4 L261.0 465.4ZM255.2 469.2 L253.1 468.0 L254.3 465.8 L256.4 467.0ZM250.5 470.4 L248.4 469.1 L249.7 467.0 L251.8 468.3ZM245.7 471.4 L243.6 470.0 L245.0 468.0 L247.1 469.4ZM240.8 472.2 L238.8 470.7 L240.3 468.7 L242.3 470.2ZM235.9 472.7 L234.0 471.1 L235.6 469.2 L237.5 470.8ZM231.0 473.0 L229.2 471.2 L230.9 469.5 L232.7 471.2ZM226.0 473.0 L224.3 471.2 L226.1 469.5 L227.8 471.2ZM221.1 472.7 L219.5 470.8 L221.4 469.2 L223.0 471.1ZM216.2 472.2 L214.7 470.2 L216.7 468.7 L218.2 470.7ZM211.3 471.4 L209.9 469.4 L212.0 468.0 L213.4 470.0ZM206.5 470.4 L205.2 468.3 L207.3 467.0 L208.6 469.1ZM201.8 469.2 L200.6 467.0 L202.7 465.8 L203.9 468.0ZM197.1 467.7 L196.0 465.4 L198.2 464.4 L199.3 466.6ZM192.4 465.9 L191.5 463.7 L193.8 462.7 L194.7 465.0ZM187.9 464.0 L187.1 461.6 L189.4 460.8 L190.3 463.1ZM183.5 461.8 L182.8 459.4 L185.2 458.7 L185.9 461.0ZM179.2 459.3 L178.6 456.9 L181.0 456.3 L181.6 458.7ZM175.1 456.7 L174.6 454.3 L177.0 453.8 L177.5 456.2ZM171.1 453.8 L170.7 451.4 L173.2 451.0 L173.5 453.5ZM167.2 450.8 L167.0 448.3 L169.4 448.1 L169.7 450.6ZM163.5 447.5 L163.4 445.0 L165.9 445.0 L166.0 447.4ZM160.0 444.1 L160.0 441.6 L162.5 441.7 L162.5 444.1ZM156.6 440.5 L156.8 438.0 L159.2 438.2 L159.1 440.6ZM153.5 436.7 L153.8 434.2 L156.2 434.5 L155.9 437.0ZM150.5 432.8 L150.9 430.3 L153.4 430.7 L153.0 433.2ZM147.8 428.7 L148.3 426.2 L150.7 426.8 L150.2 429.2ZM145.2 424.4 L145.9 422.0 L148.3 422.7 L147.6 425.1ZM142.9 420.1 L143.7 417.7 L146.0 418.5 L145.3 420.9ZM140.8 415.6 L141.7 413.3 L144.0 414.2 L143.1 416.5ZM139.0 411.1 L140.0 408.8 L142.2 409.8 L141.2 412.1ZM137.3 406.4 L138.5 404.2 L140.7 405.3 L139.5 407.5ZM136.0 401.7 L137.2 399.5 L139.3 400.8 L138.1 402.9ZM134.8 396.9 L136.2 394.8 L138.2 396.2 L136.9 398.2ZM133.9 392.0 L135.4 390.0 L137.4 391.5 L136.0 393.5ZM133.3 387.1 L134.9 385.2 L136.8 386.8 L135.2 388.7ZM321.5 384.5 L319.6 386.1 L318.0 384.2 L319.9 382.6ZM321.0 389.3 L319.1 390.8 L317.6 388.8 L319.5 387.3ZM320.3 394.0 L318.2 395.4 L316.8 393.4 L318.9 392.0ZM319.3 398.7 L317.2 400.0 L315.9 397.9 L318.0 396.6ZM318.1 403.4 L315.9 404.6 L314.7 402.4 L316.9 401.2ZM316.6 408.0 L314.4 409.0 L313.3 406.8 L315.5 405.7ZM314.9 412.4 L312.6 413.4 L311.7 411.1 L313.9 410.2ZM313.0 416.9 L310.7 417.7 L309.8 415.4 L312.1 414.5ZM310.9 421.1 L308.5 421.9 L307.8 419.5 L310.1 418.8ZM308.5 425.3 L306.1 425.9 L305.5 423.5 L307.9 422.9ZM305.9 429.4 L303.5 429.8 L303.0 427.4 L305.4 426.9ZM303.1 433.3 L300.7 433.6 L300.3 431.2 L302.8 430.8ZM300.1 437.1 L297.7 437.3 L297.5 434.8 L299.9 434.6ZM297.0 440.7 L294.5 440.8 L294.4 438.3 L296.9 438.2ZM293.6 444.1 L291.1 444.1 L291.2 441.6 L293.6 441.6ZM290.1 447.4 L287.6 447.2 L287.8 444.8 L290.2 444.9ZM286.4 450.5 L283.9 450.2 L284.2 447.7 L286.7 448.0ZM282.6 453.3 L280.1 452.9 L280.5 450.5 L283.0 450.9ZM278.6 456.0 L276.1 455.5 L276.7 453.1 L279.1 453.6ZM274.5 458.5 L272.1 457.8 L272.7 455.5 L275.1 456.1ZM270.2 460.8 L267.9 460.0 L268.6 457.6 L271.0 458.4ZM265.9 462.8 L263.6 461.9 L264.5 459.6 L266.8 460.5ZM261.4 464.6 L259.2 463.6 L260.2 461.3 L262.4 462.3ZM256.9 466.2 L254.7 465.0 L255.8 462.8 L258.0 464.0ZM252.3 467.5 L250.1 466.3 L251.4 464.1 L253.5 465.4ZM247.6 468.6 L245.5 467.3 L246.9 465.2 L248.9 466.5ZM242.9 469.5 L240.9 468.0 L242.3 466.0 L244.3 467.5ZM238.1 470.1 L236.2 468.5 L237.7 466.6 L239.7 468.2ZM233.3 470.5 L231.5 468.8 L233.1 467.0 L235.0 468.6ZM228.5 470.6 L226.8 468.8 L228.5 467.1 L230.2 468.8ZM223.7 470.5 L222.0 468.6 L223.9 467.0 L225.5 468.8ZM218.9 470.1 L217.3 468.2 L219.3 466.6 L220.8 468.5ZM214.1 469.5 L212.7 467.5 L214.7 466.0 L216.1 468.0ZM209.4 468.6 L208.1 466.5 L210.1 465.2 L211.5 467.3ZM204.7 467.5 L203.5 465.4 L205.6 464.1 L206.9 466.3ZM200.1 466.2 L199.0 464.0 L201.2 462.8 L202.3 465.0ZM195.6 464.6 L194.6 462.3 L196.8 461.3 L197.8 463.6ZM191.1 462.8 L190.2 460.5 L192.5 459.6 L193.4 461.9ZM186.8 460.8 L186.0 458.4 L188.4 457.6 L189.1 460.0ZM182.5 458.5 L181.9 456.1 L184.3 455.5 L184.9 457.8ZM178.4 456.0 L177.9 453.6 L180.3 453.1 L180.9 455.5ZM174.4 453.3 L174.0 450.9 L176.5 450.5 L176.9 452.9ZM170.6 450.5 L170.3 448.0 L172.8 447.7 L173.1 450.2ZM166.9 447.4 L166.8 444.9 L169.2 444.8 L169.4 447.2ZM163.4 444.1 L163.4 441.6 L165.8 441.6 L165.9 444.1ZM160.0 440.7 L160.1 438.2 L162.6 438.3 L162.5 440.8ZM156.9 437.1 L157.1 434.6 L159.5 434.8 L159.3 437.3ZM153.9 433.3 L154.2 430.8 L156.7 431.2 L156.3 433.6ZM151.1 429.4 L151.6 426.9 L154.0 427.4 L153.5 429.8ZM148.5 425.3 L149.1 422.9 L151.5 423.5 L150.9 425.9ZM146.1 421.1 L146.9 418.8 L149.2 419.5 L148.5 421.9ZM144.0 416.9 L144.9 414.5 L147.2 415.4 L146.3 417.7ZM142.1 412.4 L143.1 410.2 L145.3 411.1 L144.4 413.4ZM140.4 408.0 L141.5 405.7 L143.7 406.8 L142.6 409.0ZM138.9 403.4 L140.1 401.2 L142.3 402.4 L141.1 404.6ZM137.7 398.7 L139.0 396.6 L141.1 397.9 L139.8 400.0ZM136.7 394.0 L138.1 392.0 L140.2 393.4 L138.8 395.4ZM136.0 389.3 L137.5 387.3 L139.4 388.8 L137.9 390.8ZM135.5 384.5 L137.1 382.6 L139.0 384.2 L137.4 386.1ZM326.3 384.9 L324.4 386.5 L322.8 384.6 L324.7 383.0ZM325.8 389.9 L323.8 391.4 L322.3 389.4 L324.3 387.9ZM325.0 394.9 L323.0 396.3 L321.6 394.3 L323.6 392.8ZM324.0 399.8 L321.9 401.1 L320.6 399.0 L322.7 397.7ZM322.7 404.7 L320.5 405.9 L319.3 403.7 L321.5 402.5ZM321.2 409.5 L318.9 410.6 L317.8 408.4 L320.1 407.3ZM319.4 414.3 L317.1 415.2 L316.1 412.9 L318.4 412.0ZM317.3 418.9 L315.0 419.7 L314.2 417.4 L316.5 416.6ZM315.1 423.4 L312.7 424.1 L312.0 421.8 L314.4 421.0ZM312.6 427.8 L310.2 428.4 L309.6 426.0 L312.0 425.4ZM309.9 432.1 L307.4 432.5 L307.0 430.1 L309.4 429.6ZM307.0 436.2 L304.5 436.5 L304.2 434.1 L306.6 433.7ZM303.8 440.1 L301.4 440.4 L301.1 437.9 L303.6 437.7ZM300.5 443.9 L298.0 444.0 L297.9 441.6 L300.4 441.5ZM297.0 447.6 L294.5 447.5 L294.5 445.0 L297.0 445.1ZM293.3 451.0 L290.8 450.8 L291.0 448.4 L293.4 448.5ZM289.4 454.2 L286.9 453.9 L287.2 451.5 L289.7 451.8ZM285.3 457.3 L282.9 456.8 L283.3 454.4 L285.7 454.8ZM281.1 460.1 L278.7 459.5 L279.3 457.1 L281.7 457.6ZM276.8 462.7 L274.4 462.0 L275.1 459.6 L277.5 460.3ZM272.4 465.0 L270.0 464.3 L270.8 461.9 L273.1 462.7ZM267.8 467.2 L265.5 466.3 L266.4 464.0 L268.7 464.9ZM263.1 469.1 L260.8 468.1 L261.9 465.8 L264.1 466.8ZM258.3 470.8 L256.1 469.6 L257.3 467.4 L259.5 468.5ZM253.5 472.2 L251.3 470.9 L252.6 468.8 L254.7 470.0ZM248.6 473.3 L246.5 472.0 L247.9 469.9 L249.9 471.2ZM243.6 474.2 L241.6 472.8 L243.1 470.8 L245.1 472.2ZM238.6 474.9 L236.7 473.3 L238.2 471.4 L240.1 472.9ZM233.6 475.3 L231.7 473.6 L233.4 471.8 L235.2 473.4ZM228.5 475.4 L226.8 473.6 L228.5 471.9 L230.2 473.6ZM223.4 475.3 L221.8 473.4 L223.6 471.8 L225.3 473.6ZM218.4 474.9 L216.9 472.9 L218.8 471.4 L220.3 473.3ZM213.4 474.2 L211.9 472.2 L213.9 470.8 L215.4 472.8ZM208.4 473.3 L207.1 471.2 L209.1 469.9 L210.5 472.0ZM203.5 472.2 L202.3 470.0 L204.4 468.8 L205.7 470.9ZM198.7 470.8 L197.5 468.5 L199.7 467.4 L200.9 469.6ZM193.9 469.1 L192.9 466.8 L195.1 465.8 L196.2 468.1ZM189.2 467.2 L188.3 464.9 L190.6 464.0 L191.5 466.3ZM184.6 465.0 L183.9 462.7 L186.2 461.9 L187.0 464.3ZM180.2 462.7 L179.5 460.3 L181.9 459.6 L182.6 462.0ZM175.9 460.1 L175.3 457.6 L177.7 457.1 L178.3 459.5ZM171.7 457.3 L171.3 454.8 L173.7 454.4 L174.1 456.8ZM167.6 454.2 L167.3 451.8 L169.8 451.5 L170.1 453.9ZM163.7 451.0 L163.6 448.5 L166.0 448.4 L166.2 450.8ZM160.0 447.6 L160.0 445.1 L162.5 445.0 L162.5 447.5ZM156.5 443.9 L156.6 441.5 L159.1 441.6 L159.0 444.0ZM153.2 440.1 L153.4 437.7 L155.9 437.9 L155.6 440.4ZM150.0 436.2 L150.4 433.7 L152.8 434.1 L152.5 436.5ZM147.1 432.1 L147.6 429.6 L150.0 430.1 L149.6 432.5ZM144.4 427.8 L145.0 425.4 L147.4 426.0 L146.8 428.4ZM141.9 423.4 L142.6 421.0 L145.0 421.8 L144.3 424.1ZM139.7 418.9 L140.5 416.6 L142.8 417.4 L142.0 419.7ZM137.6 414.3 L138.6 412.0 L140.9 412.9 L139.9 415.2ZM135.8 409.5 L136.9 407.3 L139.2 408.4 L138.1 410.6ZM134.3 404.7 L135.5 402.5 L137.7 403.7 L136.5 405.9ZM133.0 399.8 L134.3 397.7 L136.4 399.0 L135.1 401.1ZM132.0 394.9 L133.4 392.8 L135.4 394.3 L134.0 396.3ZM131.2 389.9 L132.7 387.9 L134.7 389.4 L133.2 391.4ZM130.7 384.9 L132.3 383.0 L134.2 384.6 L132.6 386.5Z" fill="#fff" clip-path="url(#cb48)"/>
<path d="M138.19 368.9 A90.7 90.7 0 0 1 318.81 368.9" fill="none" stroke="#111" stroke-width="1.8" stroke-linejoin="round" />
<path d="M318.88 384.9 A90.7 90.7 0 0 1 138.12 384.9" fill="none" stroke="#111" stroke-width="1.8" stroke-linejoin="round" />
<path d="M131.66 368.9 A97.2 97.2 0 0 1 325.34 368.9" fill="none" stroke="#111" stroke-width="1.8" stroke-linejoin="round" />
<path d="M325.4 384.9 A97.2 97.2 0 0 1 131.6 384.9" fill="none" stroke="#111" stroke-width="1.8" stroke-linejoin="round" />
<circle cx="445.7" cy="377.3" r="90.5" fill="#fff"/>
<rect x="347.5" y="368.9" width="196.4" height="16" fill="#fff"/>
<clipPath id="cb57"><path d="M348.86 368.9 A97.2 97.2 0 0 1 542.54 368.9 L536.01 368.9 A90.7 90.7 0 0 0 355.39 368.9 Z"/></clipPath>
<path d="M348.86 368.9 A97.2 97.2 0 0 1 542.54 368.9 L536.01 368.9 A90.7 90.7 0 0 0 355.39 368.9 Z" fill="#151515" stroke="none"/>
<path d="M350.5 367.5 L352.4 365.9 L354.0 367.8 L352.1 369.4ZM351.1 362.6 L353.2 361.1 L354.6 363.1 L352.6 364.6ZM352.0 357.7 L354.1 356.4 L355.4 358.4 L353.4 359.8ZM353.2 352.9 L355.3 351.7 L356.5 353.8 L354.4 355.1ZM354.5 348.2 L356.7 347.1 L357.9 349.3 L355.7 350.4ZM356.2 343.5 L358.4 342.5 L359.4 344.8 L357.2 345.8ZM358.0 339.0 L360.3 338.1 L361.2 340.4 L358.9 341.3ZM360.1 334.5 L362.5 333.7 L363.2 336.1 L360.9 336.9ZM362.4 330.2 L364.8 329.5 L365.5 331.9 L363.1 332.6ZM365.0 325.9 L367.4 325.4 L367.9 327.8 L365.5 328.4ZM367.7 321.8 L370.2 321.4 L370.6 323.9 L368.1 324.3ZM370.7 317.9 L373.1 317.6 L373.4 320.1 L371.0 320.4ZM373.8 314.1 L376.3 314.0 L376.4 316.4 L374.0 316.6ZM377.2 310.5 L379.7 310.5 L379.7 312.9 L377.2 313.0ZM380.7 307.1 L383.2 307.2 L383.1 309.6 L380.6 309.6ZM384.4 303.8 L386.9 304.0 L386.6 306.5 L384.2 306.3ZM388.3 300.8 L390.7 301.1 L390.4 303.6 L387.9 303.2ZM392.3 297.9 L394.7 298.4 L394.2 300.8 L391.8 300.3ZM396.4 295.3 L398.8 295.9 L398.2 298.3 L395.8 297.7ZM400.7 292.8 L403.1 293.6 L402.4 295.9 L400.0 295.2ZM405.1 290.6 L407.5 291.5 L406.6 293.8 L404.3 293.0ZM409.6 288.7 L411.9 289.6 L411.0 291.9 L408.7 290.9ZM414.3 286.9 L416.5 288.0 L415.4 290.2 L413.2 289.2ZM419.0 285.4 L421.1 286.6 L419.9 288.8 L417.8 287.6ZM423.7 284.2 L425.8 285.5 L424.5 287.6 L422.4 286.3ZM428.5 283.2 L430.6 284.6 L429.2 286.6 L427.1 285.2ZM433.4 282.4 L435.4 283.9 L433.9 285.9 L431.9 284.4ZM438.3 281.9 L440.2 283.5 L438.6 285.4 L436.7 283.8ZM443.2 281.6 L445.0 283.4 L443.3 285.1 L441.5 283.4ZM448.2 281.6 L449.9 283.4 L448.1 285.1 L446.4 283.4ZM453.1 281.9 L454.7 283.8 L452.8 285.4 L451.2 283.5ZM458.0 282.4 L459.5 284.4 L457.5 285.9 L456.0 283.9ZM462.9 283.2 L464.3 285.2 L462.2 286.6 L460.8 284.6ZM467.7 284.2 L469.0 286.3 L466.9 287.6 L465.6 285.5ZM472.4 285.4 L473.6 287.6 L471.5 288.8 L470.3 286.6ZM477.1 286.9 L478.2 289.2 L476.0 290.2 L474.9 288.0ZM481.8 288.7 L482.7 290.9 L480.4 291.9 L479.5 289.6ZM486.3 290.6 L487.1 293.0 L484.8 293.8 L483.9 291.5ZM490.7 292.8 L491.4 295.2 L489.0 295.9 L488.3 293.6ZM495.0 295.3 L495.6 297.7 L493.2 298.3 L492.6 295.9ZM499.1 297.9 L499.6 300.3 L497.2 300.8 L496.7 298.4ZM503.1 300.8 L503.5 303.2 L501.0 303.6 L500.7 301.1ZM507.0 303.8 L507.2 306.3 L504.8 306.5 L504.5 304.0ZM510.7 307.1 L510.8 309.6 L508.3 309.6 L508.2 307.2ZM514.2 310.5 L514.2 313.0 L511.7 312.9 L511.7 310.5ZM517.6 314.1 L517.4 316.6 L515.0 316.4 L515.1 314.0ZM520.7 317.9 L520.4 320.4 L518.0 320.1 L518.3 317.6ZM523.7 321.8 L523.3 324.3 L520.8 323.9 L521.2 321.4ZM526.4 325.9 L525.9 328.4 L523.5 327.8 L524.0 325.4ZM529.0 330.2 L528.3 332.6 L525.9 331.9 L526.6 329.5ZM531.3 334.5 L530.5 336.9 L528.2 336.1 L528.9 333.7ZM533.4 339.0 L532.5 341.3 L530.2 340.4 L531.1 338.1ZM535.2 343.5 L534.2 345.8 L532.0 344.8 L533.0 342.5ZM536.9 348.2 L535.7 350.4 L533.5 349.3 L534.7 347.1ZM538.2 352.9 L537.0 355.1 L534.9 353.8 L536.1 351.7ZM539.4 357.7 L538.0 359.8 L536.0 358.4 L537.3 356.4ZM540.3 362.6 L538.8 364.6 L536.8 363.1 L538.2 361.1ZM540.9 367.5 L539.3 369.4 L537.4 367.8 L539.0 365.9ZM352.7 370.1 L354.6 368.5 L356.2 370.4 L354.3 372.0ZM353.2 365.3 L355.1 363.8 L356.6 365.8 L354.7 367.3ZM353.9 360.6 L356.0 359.2 L357.4 361.2 L355.3 362.6ZM354.9 355.9 L357.0 354.6 L358.3 356.7 L356.2 358.0ZM356.1 351.2 L358.3 350.0 L359.5 352.2 L357.3 353.4ZM357.6 346.6 L359.8 345.6 L360.9 347.8 L358.7 348.9ZM359.3 342.2 L361.6 341.2 L362.5 343.5 L360.3 344.4ZM361.2 337.7 L363.5 336.9 L364.4 339.2 L362.1 340.1ZM363.3 333.5 L365.7 332.7 L366.4 335.1 L364.1 335.8ZM365.7 329.3 L368.1 328.7 L368.7 331.1 L366.3 331.7ZM368.3 325.2 L370.7 324.8 L371.2 327.2 L368.8 327.7ZM371.1 321.3 L373.5 321.0 L373.9 323.4 L371.4 323.8ZM374.1 317.5 L376.5 317.3 L376.7 319.8 L374.3 320.0ZM377.2 313.9 L379.7 313.8 L379.8 316.3 L377.3 316.4ZM380.6 310.5 L383.1 310.5 L383.0 313.0 L380.6 313.0ZM384.1 307.2 L386.6 307.4 L386.4 309.8 L384.0 309.7ZM387.8 304.1 L390.3 304.4 L390.0 306.9 L387.5 306.6ZM391.6 301.3 L394.1 301.7 L393.7 304.1 L391.2 303.7ZM395.6 298.6 L398.1 299.1 L397.5 301.5 L395.1 301.0ZM399.7 296.1 L402.1 296.8 L401.5 299.1 L399.1 298.5ZM404.0 293.8 L406.3 294.6 L405.6 297.0 L403.2 296.2ZM408.3 291.8 L410.6 292.7 L409.7 295.0 L407.4 294.1ZM412.8 290.0 L415.0 291.0 L414.0 293.3 L411.8 292.3ZM417.3 288.4 L419.5 289.6 L418.4 291.8 L416.2 290.6ZM421.9 287.1 L424.1 288.3 L422.8 290.5 L420.7 289.2ZM426.6 286.0 L428.7 287.3 L427.3 289.4 L425.3 288.1ZM431.3 285.1 L433.3 286.6 L431.9 288.6 L429.9 287.1ZM436.1 284.5 L438.0 286.1 L436.5 288.0 L434.5 286.4ZM440.9 284.1 L442.7 285.8 L441.1 287.6 L439.2 286.0ZM445.7 284.0 L447.4 285.8 L445.7 287.5 L444.0 285.8ZM450.5 284.1 L452.2 286.0 L450.3 287.6 L448.7 285.8ZM455.3 284.5 L456.9 286.4 L454.9 288.0 L453.4 286.1ZM460.1 285.1 L461.5 287.1 L459.5 288.6 L458.1 286.6ZM464.8 286.0 L466.1 288.1 L464.1 289.4 L462.7 287.3ZM469.5 287.1 L470.7 289.2 L468.6 290.5 L467.3 288.3ZM474.1 288.4 L475.2 290.6 L473.0 291.8 L471.9 289.6ZM478.6 290.0 L479.6 292.3 L477.4 293.3 L476.4 291.0ZM483.1 291.8 L484.0 294.1 L481.7 295.0 L480.8 292.7ZM487.4 293.8 L488.2 296.2 L485.8 297.0 L485.1 294.6ZM491.7 296.1 L492.3 298.5 L489.9 299.1 L489.3 296.8ZM495.8 298.6 L496.3 301.0 L493.9 301.5 L493.3 299.1ZM499.8 301.3 L500.2 303.7 L497.7 304.1 L497.3 301.7ZM503.6 304.1 L503.9 306.6 L501.4 306.9 L501.1 304.4ZM507.3 307.2 L507.4 309.7 L505.0 309.8 L504.8 307.4ZM510.8 310.5 L510.8 313.0 L508.4 313.0 L508.3 310.5ZM514.2 313.9 L514.1 316.4 L511.6 316.3 L511.7 313.8ZM517.3 317.5 L517.1 320.0 L514.7 319.8 L514.9 317.3ZM520.3 321.3 L520.0 323.8 L517.5 323.4 L517.9 321.0ZM523.1 325.2 L522.6 327.7 L520.2 327.2 L520.7 324.8ZM525.7 329.3 L525.1 331.7 L522.7 331.1 L523.3 328.7ZM528.1 333.5 L527.3 335.8 L525.0 335.1 L525.7 332.7ZM530.2 337.7 L529.3 340.1 L527.0 339.2 L527.9 336.9ZM532.1 342.2 L531.1 344.4 L528.9 343.5 L529.8 341.2ZM533.8 346.6 L532.7 348.9 L530.5 347.8 L531.6 345.6ZM535.3 351.2 L534.1 353.4 L531.9 352.2 L533.1 350.0ZM536.5 355.9 L535.2 358.0 L533.1 356.7 L534.4 354.6ZM537.5 360.6 L536.1 362.6 L534.0 361.2 L535.4 359.2ZM538.2 365.3 L536.7 367.3 L534.8 365.8 L536.3 363.8ZM538.7 370.1 L537.1 372.0 L535.2 370.4 L536.8 368.5ZM347.9 369.7 L349.8 368.1 L351.4 370.0 L349.5 371.6ZM348.4 364.7 L350.4 363.2 L351.9 365.2 L349.9 366.7ZM349.2 359.7 L351.2 358.3 L352.6 360.3 L350.6 361.8ZM350.2 354.8 L352.3 353.5 L353.6 355.6 L351.5 356.9ZM351.5 349.9 L353.7 348.7 L354.9 350.9 L352.7 352.1ZM353.0 345.1 L355.3 344.0 L356.4 346.2 L354.1 347.3ZM354.8 340.3 L357.1 339.4 L358.1 341.7 L355.8 342.6ZM356.9 335.7 L359.2 334.9 L360.0 337.2 L357.7 338.0ZM359.1 331.2 L361.5 330.5 L362.2 332.8 L359.8 333.6ZM361.6 326.8 L364.0 326.2 L364.6 328.6 L362.2 329.2ZM364.3 322.5 L366.8 322.1 L367.2 324.5 L364.8 325.0ZM367.2 318.4 L369.7 318.1 L370.0 320.5 L367.6 320.9ZM370.4 314.5 L372.8 314.2 L373.1 316.7 L370.6 316.9ZM373.7 310.7 L376.2 310.6 L376.3 313.0 L373.8 313.1ZM377.2 307.0 L379.7 307.1 L379.7 309.6 L377.2 309.5ZM380.9 303.6 L383.4 303.8 L383.2 306.2 L380.8 306.1ZM384.8 300.4 L387.3 300.7 L387.0 303.1 L384.5 302.8ZM388.9 297.3 L391.3 297.8 L390.9 300.2 L388.5 299.8ZM393.1 294.5 L395.5 295.1 L394.9 297.5 L392.5 297.0ZM397.4 291.9 L399.8 292.6 L399.1 295.0 L396.7 294.3ZM401.8 289.6 L404.2 290.3 L403.4 292.7 L401.1 291.9ZM406.4 287.4 L408.7 288.3 L407.8 290.6 L405.5 289.7ZM411.1 285.5 L413.4 286.5 L412.3 288.8 L410.1 287.8ZM415.9 283.8 L418.1 285.0 L416.9 287.2 L414.7 286.1ZM420.7 282.4 L422.9 283.7 L421.6 285.8 L419.5 284.6ZM425.6 281.3 L427.7 282.6 L426.3 284.7 L424.3 283.4ZM430.6 280.4 L432.6 281.8 L431.1 283.8 L429.1 282.4ZM435.6 279.7 L437.5 281.3 L436.0 283.2 L434.1 281.7ZM440.6 279.3 L442.5 281.0 L440.8 282.8 L439.0 281.2ZM445.7 279.2 L447.4 281.0 L445.7 282.7 L444.0 281.0ZM450.8 279.3 L452.4 281.2 L450.6 282.8 L448.9 281.0ZM455.8 279.7 L457.3 281.7 L455.4 283.2 L453.9 281.3ZM460.8 280.4 L462.3 282.4 L460.3 283.8 L458.8 281.8ZM465.8 281.3 L467.1 283.4 L465.1 284.7 L463.7 282.6ZM470.7 282.4 L471.9 284.6 L469.8 285.8 L468.5 283.7ZM475.5 283.8 L476.7 286.1 L474.5 287.2 L473.3 285.0ZM480.3 285.5 L481.3 287.8 L479.1 288.8 L478.0 286.5ZM485.0 287.4 L485.9 289.7 L483.6 290.6 L482.7 288.3ZM489.6 289.6 L490.3 291.9 L488.0 292.7 L487.2 290.3ZM494.0 291.9 L494.7 294.3 L492.3 295.0 L491.6 292.6ZM498.3 294.5 L498.9 297.0 L496.5 297.5 L495.9 295.1ZM502.5 297.3 L502.9 299.8 L500.5 300.2 L500.1 297.8ZM506.6 300.4 L506.9 302.8 L504.4 303.1 L504.1 300.7ZM510.5 303.6 L510.6 306.1 L508.2 306.2 L508.0 303.8ZM514.2 307.0 L514.2 309.5 L511.7 309.6 L511.7 307.1ZM517.7 310.7 L517.6 313.1 L515.1 313.0 L515.2 310.6ZM521.0 314.5 L520.8 316.9 L518.3 316.7 L518.6 314.2ZM524.2 318.4 L523.8 320.9 L521.4 320.5 L521.7 318.1ZM527.1 322.5 L526.6 325.0 L524.2 324.5 L524.6 322.1ZM529.8 326.8 L529.2 329.2 L526.8 328.6 L527.4 326.2ZM532.3 331.2 L531.6 333.6 L529.2 332.8 L529.9 330.5ZM534.5 335.7 L533.7 338.0 L531.4 337.2 L532.2 334.9ZM536.6 340.3 L535.6 342.6 L533.3 341.7 L534.3 339.4ZM538.4 345.1 L537.3 347.3 L535.0 346.2 L536.1 344.0ZM539.9 349.9 L538.7 352.1 L536.5 350.9 L537.7 348.7ZM541.2 354.8 L539.9 356.9 L537.8 355.6 L539.1 353.5ZM542.2 359.7 L540.8 361.8 L538.8 360.3 L540.2 358.3ZM543.0 364.7 L541.5 366.7 L539.5 365.2 L541.0 363.2ZM543.5 369.7 L541.9 371.6 L540.0 370.0 L541.6 368.1Z" fill="#fff" clip-path="url(#cb57)"/>
<clipPath id="cb60"><path d="M542.6 384.9 A97.2 97.2 0 0 1 348.8 384.9 L355.32 384.9 A90.7 90.7 0 0 0 536.08 384.9 Z"/></clipPath>
<path d="M542.6 384.9 A97.2 97.2 0 0 1 348.8 384.9 L355.32 384.9 A90.7 90.7 0 0 0 536.08 384.9 Z" fill="#151515" stroke="none"/>
<path d="M540.9 387.1 L539.0 388.7 L537.4 386.8 L539.3 385.2ZM540.3 392.0 L538.2 393.5 L536.8 391.5 L538.8 390.0ZM539.4 396.9 L537.3 398.2 L536.0 396.2 L538.0 394.8ZM538.2 401.7 L536.1 402.9 L534.9 400.8 L537.0 399.5ZM536.9 406.4 L534.7 407.5 L533.5 405.3 L535.7 404.2ZM535.2 411.1 L533.0 412.1 L532.0 409.8 L534.2 408.8ZM533.4 415.6 L531.1 416.5 L530.2 414.2 L532.5 413.3ZM531.3 420.1 L528.9 420.9 L528.2 418.5 L530.5 417.7ZM529.0 424.4 L526.6 425.1 L525.9 422.7 L528.3 422.0ZM526.4 428.7 L524.0 429.2 L523.5 426.8 L525.9 426.2ZM523.7 432.8 L521.2 433.2 L520.8 430.7 L523.3 430.3ZM520.7 436.7 L518.3 437.0 L518.0 434.5 L520.4 434.2ZM517.6 440.5 L515.1 440.6 L515.0 438.2 L517.4 438.0ZM514.2 444.1 L511.7 444.1 L511.7 441.7 L514.2 441.6ZM510.7 447.5 L508.2 447.4 L508.3 445.0 L510.8 445.0ZM507.0 450.8 L504.5 450.6 L504.8 448.1 L507.2 448.3ZM503.1 453.8 L500.7 453.5 L501.0 451.0 L503.5 451.4ZM499.1 456.7 L496.7 456.2 L497.2 453.8 L499.6 454.3ZM495.0 459.3 L492.6 458.7 L493.2 456.3 L495.6 456.9ZM490.7 461.8 L488.3 461.0 L489.0 458.7 L491.4 459.4ZM486.3 464.0 L483.9 463.1 L484.8 460.8 L487.1 461.6ZM481.8 465.9 L479.5 465.0 L480.4 462.7 L482.7 463.7ZM477.1 467.7 L474.9 466.6 L476.0 464.4 L478.2 465.4ZM472.4 469.2 L470.3 468.0 L471.5 465.8 L473.6 467.0ZM467.7 470.4 L465.6 469.1 L466.9 467.0 L469.0 468.3ZM462.9 471.4 L460.8 470.0 L462.2 468.0 L464.3 469.4ZM458.0 472.2 L456.0 470.7 L457.5 468.7 L459.5 470.2ZM453.1 472.7 L451.2 471.1 L452.8 469.2 L454.7 470.8ZM448.2 473.0 L446.4 471.2 L448.1 469.5 L449.9 471.2ZM443.2 473.0 L441.5 471.2 L443.3 469.5 L445.0 471.2ZM438.3 472.7 L436.7 470.8 L438.6 469.2 L440.2 471.1ZM433.4 472.2 L431.9 470.2 L433.9 468.7 L435.4 470.7ZM428.5 471.4 L427.1 469.4 L429.2 468.0 L430.6 470.0ZM423.7 470.4 L422.4 468.3 L424.5 467.0 L425.8 469.1ZM419.0 469.2 L417.8 467.0 L419.9 465.8 L421.1 468.0ZM414.3 467.7 L413.2 465.4 L415.4 464.4 L416.5 466.6ZM409.6 465.9 L408.7 463.7 L411.0 462.7 L411.9 465.0ZM405.1 464.0 L404.3 461.6 L406.6 460.8 L407.5 463.1ZM400.7 461.8 L400.0 459.4 L402.4 458.7 L403.1 461.0ZM396.4 459.3 L395.8 456.9 L398.2 456.3 L398.8 458.7ZM392.3 456.7 L391.8 454.3 L394.2 453.8 L394.7 456.2ZM388.3 453.8 L387.9 451.4 L390.4 451.0 L390.7 453.5ZM384.4 450.8 L384.2 448.3 L386.6 448.1 L386.9 450.6ZM380.7 447.5 L380.6 445.0 L383.1 445.0 L383.2 447.4ZM377.2 444.1 L377.2 441.6 L379.7 441.7 L379.7 444.1ZM373.8 440.5 L374.0 438.0 L376.4 438.2 L376.3 440.6ZM370.7 436.7 L371.0 434.2 L373.4 434.5 L373.1 437.0ZM367.7 432.8 L368.1 430.3 L370.6 430.7 L370.2 433.2ZM365.0 428.7 L365.5 426.2 L367.9 426.8 L367.4 429.2ZM362.4 424.4 L363.1 422.0 L365.5 422.7 L364.8 425.1ZM360.1 420.1 L360.9 417.7 L363.2 418.5 L362.5 420.9ZM358.0 415.6 L358.9 413.3 L361.2 414.2 L360.3 416.5ZM356.2 411.1 L357.2 408.8 L359.4 409.8 L358.4 412.1ZM354.5 406.4 L355.7 404.2 L357.9 405.3 L356.7 407.5ZM353.2 401.7 L354.4 399.5 L356.5 400.8 L355.3 402.9ZM352.0 396.9 L353.4 394.8 L355.4 396.2 L354.1 398.2ZM351.1 392.0 L352.6 390.0 L354.6 391.5 L353.2 393.5ZM350.5 387.1 L352.1 385.2 L354.0 386.8 L352.4 388.7ZM538.7 384.5 L536.8 386.1 L535.2 384.2 L537.1 382.6ZM538.2 389.3 L536.3 390.8 L534.8 388.8 L536.7 387.3ZM537.5 394.0 L535.4 395.4 L534.0 393.4 L536.1 392.0ZM536.5 398.7 L534.4 400.0 L533.1 397.9 L535.2 396.6ZM535.3 403.4 L533.1 404.6 L531.9 402.4 L534.1 401.2ZM533.8 408.0 L531.6 409.0 L530.5 406.8 L532.7 405.7ZM532.1 412.4 L529.8 413.4 L528.9 411.1 L531.1 410.2ZM530.2 416.9 L527.9 417.7 L527.0 415.4 L529.3 414.5ZM528.1 421.1 L525.7 421.9 L525.0 419.5 L527.3 418.8ZM525.7 425.3 L523.3 425.9 L522.7 423.5 L525.1 422.9ZM523.1 429.4 L520.7 429.8 L520.2 427.4 L522.6 426.9ZM520.3 433.3 L517.9 433.6 L517.5 431.2 L520.0 430.8ZM517.3 437.1 L514.9 437.3 L514.7 434.8 L517.1 434.6ZM514.2 440.7 L511.7 440.8 L511.6 438.3 L514.1 438.2ZM510.8 444.1 L508.3 444.1 L508.4 441.6 L510.8 441.6ZM507.3 447.4 L504.8 447.2 L505.0 444.8 L507.4 444.9ZM503.6 450.5 L501.1 450.2 L501.4 447.7 L503.9 448.0ZM499.8 453.3 L497.3 452.9 L497.7 450.5 L500.2 450.9ZM495.8 456.0 L493.3 455.5 L493.9 453.1 L496.3 453.6ZM491.7 458.5 L489.3 457.8 L489.9 455.5 L492.3 456.1ZM487.4 460.8 L485.1 460.0 L485.8 457.6 L488.2 458.4ZM483.1 462.8 L480.8 461.9 L481.7 459.6 L484.0 460.5ZM478.6 464.6 L476.4 463.6 L477.4 461.3 L479.6 462.3ZM474.1 466.2 L471.9 465.0 L473.0 462.8 L475.2 464.0ZM469.5 467.5 L467.3 466.3 L468.6 464.1 L470.7 465.4ZM464.8 468.6 L462.7 467.3 L464.1 465.2 L466.1 466.5ZM460.1 469.5 L458.1 468.0 L459.5 466.0 L461.5 467.5ZM455.3 470.1 L453.4 468.5 L454.9 466.6 L456.9 468.2ZM450.5 470.5 L448.7 468.8 L450.3 467.0 L452.2 468.6ZM445.7 470.6 L444.0 468.8 L445.7 467.1 L447.4 468.8ZM440.9 470.5 L439.2 468.6 L441.1 467.0 L442.7 468.8ZM436.1 470.1 L434.5 468.2 L436.5 466.6 L438.0 468.5ZM431.3 469.5 L429.9 467.5 L431.9 466.0 L433.3 468.0ZM426.6 468.6 L425.3 466.5 L427.3 465.2 L428.7 467.3ZM421.9 467.5 L420.7 465.4 L422.8 464.1 L424.1 466.3ZM417.3 466.2 L416.2 464.0 L418.4 462.8 L419.5 465.0ZM412.8 464.6 L411.8 462.3 L414.0 461.3 L415.0 463.6ZM408.3 462.8 L407.4 460.5 L409.7 459.6 L410.6 461.9ZM404.0 460.8 L403.2 458.4 L405.6 457.6 L406.3 460.0ZM399.7 458.5 L399.1 456.1 L401.5 455.5 L402.1 457.8ZM395.6 456.0 L395.1 453.6 L397.5 453.1 L398.1 455.5ZM391.6 453.3 L391.2 450.9 L393.7 450.5 L394.1 452.9ZM387.8 450.5 L387.5 448.0 L390.0 447.7 L390.3 450.2ZM384.1 447.4 L384.0 444.9 L386.4 444.8 L386.6 447.2ZM380.6 444.1 L380.6 441.6 L383.0 441.6 L383.1 444.1ZM377.2 440.7 L377.3 438.2 L379.8 438.3 L379.7 440.8ZM374.1 437.1 L374.3 434.6 L376.7 434.8 L376.5 437.3ZM371.1 433.3 L371.4 430.8 L373.9 431.2 L373.5 433.6ZM368.3 429.4 L368.8 426.9 L371.2 427.4 L370.7 429.8ZM365.7 425.3 L366.3 422.9 L368.7 423.5 L368.1 425.9ZM363.3 421.1 L364.1 418.8 L366.4 419.5 L365.7 421.9ZM361.2 416.9 L362.1 414.5 L364.4 415.4 L363.5 417.7ZM359.3 412.4 L360.3 410.2 L362.5 411.1 L361.6 413.4ZM357.6 408.0 L358.7 405.7 L360.9 406.8 L359.8 409.0ZM356.1 403.4 L357.3 401.2 L359.5 402.4 L358.3 404.6ZM354.9 398.7 L356.2 396.6 L358.3 397.9 L357.0 400.0ZM353.9 394.0 L355.3 392.0 L357.4 393.4 L356.0 395.4ZM353.2 389.3 L354.7 387.3 L356.6 388.8 L355.1 390.8ZM352.7 384.5 L354.3 382.6 L356.2 384.2 L354.6 386.1ZM543.5 384.9 L541.6 386.5 L540.0 384.6 L541.9 383.0ZM543.0 389.9 L541.0 391.4 L539.5 389.4 L541.5 387.9ZM542.2 394.9 L540.2 396.3 L538.8 394.3 L540.8 392.8ZM541.2 399.8 L539.1 401.1 L537.8 399.0 L539.9 397.7ZM539.9 404.7 L537.7 405.9 L536.5 403.7 L538.7 402.5ZM538.4 409.5 L536.1 410.6 L535.0 408.4 L537.3 407.3ZM536.6 414.3 L534.3 415.2 L533.3 412.9 L535.6 412.0ZM534.5 418.9 L532.2 419.7 L531.4 417.4 L533.7 416.6ZM532.3 423.4 L529.9 424.1 L529.2 421.8 L531.6 421.0ZM529.8 427.8 L527.4 428.4 L526.8 426.0 L529.2 425.4ZM527.1 432.1 L524.6 432.5 L524.2 430.1 L526.6 429.6ZM524.2 436.2 L521.7 436.5 L521.4 434.1 L523.8 433.7ZM521.0 440.1 L518.6 440.4 L518.3 437.9 L520.8 437.7ZM517.7 443.9 L515.2 444.0 L515.1 441.6 L517.6 441.5ZM514.2 447.6 L511.7 447.5 L511.7 445.0 L514.2 445.1ZM510.5 451.0 L508.0 450.8 L508.2 448.4 L510.6 448.5ZM506.6 454.2 L504.1 453.9 L504.4 451.5 L506.9 451.8ZM502.5 457.3 L500.1 456.8 L500.5 454.4 L502.9 454.8ZM498.3 460.1 L495.9 459.5 L496.5 457.1 L498.9 457.6ZM494.0 462.7 L491.6 462.0 L492.3 459.6 L494.7 460.3ZM489.6 465.0 L487.2 464.3 L488.0 461.9 L490.3 462.7ZM485.0 467.2 L482.7 466.3 L483.6 464.0 L485.9 464.9ZM480.3 469.1 L478.0 468.1 L479.1 465.8 L481.3 466.8ZM475.5 470.8 L473.3 469.6 L474.5 467.4 L476.7 468.5ZM470.7 472.2 L468.5 470.9 L469.8 468.8 L471.9 470.0ZM465.8 473.3 L463.7 472.0 L465.1 469.9 L467.1 471.2ZM460.8 474.2 L458.8 472.8 L460.3 470.8 L462.3 472.2ZM455.8 474.9 L453.9 473.3 L455.4 471.4 L457.3 472.9ZM450.8 475.3 L448.9 473.6 L450.6 471.8 L452.4 473.4ZM445.7 475.4 L444.0 473.6 L445.7 471.9 L447.4 473.6ZM440.6 475.3 L439.0 473.4 L440.8 471.8 L442.5 473.6ZM435.6 474.9 L434.1 472.9 L436.0 471.4 L437.5 473.3ZM430.6 474.2 L429.1 472.2 L431.1 470.8 L432.6 472.8ZM425.6 473.3 L424.3 471.2 L426.3 469.9 L427.7 472.0ZM420.7 472.2 L419.5 470.0 L421.6 468.8 L422.9 470.9ZM415.9 470.8 L414.7 468.5 L416.9 467.4 L418.1 469.6ZM411.1 469.1 L410.1 466.8 L412.3 465.8 L413.4 468.1ZM406.4 467.2 L405.5 464.9 L407.8 464.0 L408.7 466.3ZM401.8 465.0 L401.1 462.7 L403.4 461.9 L404.2 464.3ZM397.4 462.7 L396.7 460.3 L399.1 459.6 L399.8 462.0ZM393.1 460.1 L392.5 457.6 L394.9 457.1 L395.5 459.5ZM388.9 457.3 L388.5 454.8 L390.9 454.4 L391.3 456.8ZM384.8 454.2 L384.5 451.8 L387.0 451.5 L387.3 453.9ZM380.9 451.0 L380.8 448.5 L383.2 448.4 L383.4 450.8ZM377.2 447.6 L377.2 445.1 L379.7 445.0 L379.7 447.5ZM373.7 443.9 L373.8 441.5 L376.3 441.6 L376.2 444.0ZM370.4 440.1 L370.6 437.7 L373.1 437.9 L372.8 440.4ZM367.2 436.2 L367.6 433.7 L370.0 434.1 L369.7 436.5ZM364.3 432.1 L364.8 429.6 L367.2 430.1 L366.8 432.5ZM361.6 427.8 L362.2 425.4 L364.6 426.0 L364.0 428.4ZM359.1 423.4 L359.8 421.0 L362.2 421.8 L361.5 424.1ZM356.9 418.9 L357.7 416.6 L360.0 417.4 L359.2 419.7ZM354.8 414.3 L355.8 412.0 L358.1 412.9 L357.1 415.2ZM353.0 409.5 L354.1 407.3 L356.4 408.4 L355.3 410.6ZM351.5 404.7 L352.7 402.5 L354.9 403.7 L353.7 405.9ZM350.2 399.8 L351.5 397.7 L353.6 399.0 L352.3 401.1ZM349.2 394.9 L350.6 392.8 L352.6 394.3 L351.2 396.3ZM348.4 389.9 L349.9 387.9 L351.9 389.4 L350.4 391.4ZM347.9 384.9 L349.5 383.0 L351.4 384.6 L349.8 386.5Z" fill="#fff" clip-path="url(#cb60)"/>
<path d="M355.39 368.9 A90.7 90.7 0 0 1 536.01 368.9" fill="none" stroke="#111" stroke-width="1.8" stroke-linejoin="round" />
<path d="M536.08 384.9 A90.7 90.7 0 0 1 355.32 384.9" fill="none" stroke="#111" stroke-width="1.8" stroke-linejoin="round" />
<path d="M348.86 368.9 A97.2 97.2 0 0 1 542.54 368.9" fill="none" stroke="#111" stroke-width="1.8" stroke-linejoin="round" />
<path d="M542.6 384.9 A97.2 97.2 0 0 1 348.8 384.9" fill="none" stroke="#111" stroke-width="1.8" stroke-linejoin="round" />
<line x1="190.3" y1="166.5" x2="269.65" y2="103.98" stroke="#111" stroke-width="1.9" />
<line x1="483.2" y1="166.5" x2="404" y2="104.02" stroke="#111" stroke-width="1.9" />
<path d="M190.3 166.5 L226.73 166.5 A5 5 0 0 0 231.58 162.72 A108.5 108.5 0 0 1 404 104.02" fill="none" stroke="#111" stroke-width="1.9" stroke-linejoin="round" />
<path d="M190.3 166.5 L190.3 181.3 L246.44 181.3" fill="none" stroke="#111" stroke-width="1.9" stroke-linejoin="round" />
<path d="M458 166.5 L483.2 166.5 L483.2 181.3 L427.16 181.3" fill="none" stroke="#111" stroke-width="1.9" stroke-linejoin="round" />
<path d="M246.42 196.8 L190.3 196.8 L190.3 211.4 L80.6 354.3 L80.6 368.9 L138.19 368.9" fill="none" stroke="#111" stroke-width="1.9" stroke-linejoin="round" />
<path d="M190.3 211.4 L226.61 211.4 A5 5 0 0 1 231.46 215.2 A108.5 108.5 0 0 0 240.73 239.62 A20 20 0 0 1 223.87 268.9 A108.5 108.5 0 0 0 123.35 350.53 A5 5 0 0 1 118.51 354.3 L80.6 354.3" fill="none" stroke="#111" stroke-width="1.9" stroke-linejoin="round" />
<line x1="318.81" y1="368.9" x2="355.39" y2="368.9" stroke="#111" stroke-width="1.9" />
<path d="M427.18 196.8 L483.2 196.8 L483.2 211.4 L458 211.4" fill="none" stroke="#111" stroke-width="1.9" stroke-linejoin="round" />
<path d="M483.2 211.4 L592.5 354.3 L592.5 368.9 L536.01 368.9" fill="none" stroke="#111" stroke-width="1.9" stroke-linejoin="round" />
<line x1="566.8" y1="354.3" x2="592.5" y2="354.3" stroke="#111" stroke-width="1.9" />
<line x1="318.88" y1="384.9" x2="355.32" y2="384.9" stroke="#111" stroke-width="1.9" />
<path d="M138.12 384.9 L80.6 384.9 L80.6 399.9 L117.63 399.9 A6 6 0 0 1 123.44 404.4 A108.5 108.5 0 0 0 145.57 447.26 A12 12 0 0 1 136.4 467 L81.2 467.0 L81.2 485.8" fill="none" stroke="#111" stroke-width="1.9" stroke-linejoin="round" />
<line x1="80.6" y1="399.9" x2="120.3" y2="467" stroke="#111" stroke-width="1.9" />
<path d="M228.5 485.8 A108.5 108.5 0 0 0 323.05 430.53 A3 3 0 0 1 325.66 429 L348.54 429 A3 3 0 0 1 351.15 430.53 A108.5 108.5 0 0 0 445.7 485.8" fill="none" stroke="#111" stroke-width="1.9" stroke-linejoin="round" />
<path d="M536.08 384.9 L592.5 384.9 L592.5 399.9 L566.8 399.9" fill="none" stroke="#111" stroke-width="1.9" stroke-linejoin="round" />
<path d="M592.5 399.9 L553.5 467 L591.6 467.0 L591.6 485.8" fill="none" stroke="#111" stroke-width="1.9" stroke-linejoin="round" />
<path d="M59.1 485.8 L644.7 485.8" fill="none" stroke="#111" stroke-width="2.0" stroke-linejoin="round" />
<path d="M61.3 494.8 L644.7 494.8" fill="none" stroke="#111" stroke-width="2.0" stroke-linejoin="round" />
<path d="M59.1 485.8 C63 487.5 64 489 61 490.5 C59.5 491.5 60 493 61.3 494.8" fill="none" stroke="#111" stroke-width="1.4" stroke-linejoin="round" />
<path d="M644.7 485.8 C641 488 641 492 644.7 494.8" fill="none" stroke="#111" stroke-width="1.4" stroke-linejoin="round" />
<line x1="336.8" y1="71" x2="336.8" y2="516.5" stroke="#111" stroke-width="1.0" />
<line x1="224" y1="189.2" x2="448" y2="189.2" stroke="#111" stroke-width="1.0" />
<line x1="130" y1="377.3" x2="326.1" y2="377.3" stroke="#111" stroke-width="1.0" />
<line x1="347.1" y1="377.3" x2="543.3" y2="377.3" stroke="#111" stroke-width="1.0" />
<line x1="228.5" y1="287.3" x2="228.5" y2="467.5" stroke="#111" stroke-width="1.0" />
<line x1="445.7" y1="287.3" x2="445.7" y2="467.5" stroke="#111" stroke-width="1.0" />
<path d="M433.3 138.2 C436.5 147 438.5 157 441.8 163.2 Q444 167 448 167.3" stroke="#111" stroke-width="1.05" fill="none"/>
<path d="M446.7 211.7 Q441.3 212.3 439.4 215.9 C434 228 431.8 242 432.1 251 Q432.5 257 435.8 260.8" stroke="#111" stroke-width="1.05" fill="none"/>
<path d="M463.98 270.35 A108.5 108.5 0 0 1 489.14 277.87" stroke="#111" stroke-width="1.05" fill="none"/>
<path d="M510.09 289.97 A108.5 108.5 0 0 1 528.45 307.12" stroke="#111" stroke-width="1.05" fill="none"/>
<path d="M541.85 327.03 A108.5 108.5 0 0 1 550.98 351.05 Q551.5 353.5 556.5 354.8" stroke="#111" stroke-width="1.05" fill="none"/>
<path d="M556.5 399.6 Q551 400.5 549.2 406.3" stroke="#111" stroke-width="1.05" fill="none"/>
<path d="M541.05 429.07 A108.5 108.5 0 0 1 528.63 447.26 A12 12 0 0 0 537.8 467" stroke="#111" stroke-width="1.05" fill="none"/>
<defs>
<clipPath id="cRT"><path d="M483.2 166.5 L404 104.02 L404 0 L852 0 L852 166.5 Z"/></clipPath>
<clipPath id="cRB"><path d="M592.5 354.3 L483.2 211.4 L852 211.4 L852 354.3 Z"/></clipPath>
</defs>
<g>
<rect x="204.5" y="107.2" width="14.8" height="8" fill="#fff" stroke="#111" stroke-width="1.7"/>
<rect x="199.9" y="115.2" width="24" height="11.7" rx="1.3" fill="#fff" stroke="#111" stroke-width="1.8"/>
<line x1="204.7" y1="115.2" x2="204.7" y2="126.9" stroke="#111" stroke-width="1.3" />
<line x1="219.1" y1="115.2" x2="219.1" y2="126.9" stroke="#111" stroke-width="1.3" />
<path d="M199.9 120.43 Q202.9 123.23 205.9 120.43" stroke="#111" stroke-width="1.5" fill="none"/>
<path d="M205.9 120.43 Q211.9 123.23 217.9 120.43" stroke="#111" stroke-width="1.5" fill="none"/>
<path d="M217.9 120.43 Q220.9 123.23 223.9 120.43" stroke="#111" stroke-width="1.5" fill="none"/>
<path d="M199.9 123.94 Q202.9 126.74 205.9 123.94" stroke="#111" stroke-width="1.5" fill="none"/>
<path d="M205.9 123.94 Q211.9 126.74 217.9 123.94" stroke="#111" stroke-width="1.5" fill="none"/>
<path d="M217.9 123.94 Q220.9 126.74 223.9 123.94" stroke="#111" stroke-width="1.5" fill="none"/>
<rect x="202.5" y="131.2" width="18.8" height="31.8" fill="#111"/>
<ellipse cx="203.4" cy="135.02" rx="2.5" ry="2.67" fill="#111"/>
<ellipse cx="220.4" cy="133.74" rx="2.5" ry="2.67" fill="#111"/>
<line x1="204.3" y1="136.29" x2="219.5" y2="131.84" stroke="#fff" stroke-width="1.4" />
<line x1="205.4" y1="133.62" x2="218.4" y2="130.18" stroke="#bbb" stroke-width="0.8" />
<ellipse cx="203.4" cy="141.38" rx="2.5" ry="2.67" fill="#111"/>
<ellipse cx="220.4" cy="140.1" rx="2.5" ry="2.67" fill="#111"/>
<line x1="204.3" y1="142.65" x2="219.5" y2="138.2" stroke="#fff" stroke-width="1.4" />
<line x1="205.4" y1="139.98" x2="218.4" y2="136.54" stroke="#bbb" stroke-width="0.8" />
<ellipse cx="203.4" cy="147.74" rx="2.5" ry="2.67" fill="#111"/>
<ellipse cx="220.4" cy="146.46" rx="2.5" ry="2.67" fill="#111"/>
<line x1="204.3" y1="149.01" x2="219.5" y2="144.56" stroke="#fff" stroke-width="1.4" />
<line x1="205.4" y1="146.34" x2="218.4" y2="142.9" stroke="#bbb" stroke-width="0.8" />
<ellipse cx="203.4" cy="154.1" rx="2.5" ry="2.67" fill="#111"/>
<ellipse cx="220.4" cy="152.82" rx="2.5" ry="2.67" fill="#111"/>
<line x1="204.3" y1="155.37" x2="219.5" y2="150.92" stroke="#fff" stroke-width="1.4" />
<line x1="205.4" y1="152.7" x2="218.4" y2="149.26" stroke="#bbb" stroke-width="0.8" />
<ellipse cx="203.4" cy="160.46" rx="2.5" ry="2.67" fill="#111"/>
<ellipse cx="220.4" cy="159.18" rx="2.5" ry="2.67" fill="#111"/>
<line x1="204.3" y1="161.73" x2="219.5" y2="157.28" stroke="#fff" stroke-width="1.4" />
<line x1="205.4" y1="159.06" x2="218.4" y2="155.62" stroke="#bbb" stroke-width="0.8" />
<rect x="198.1" y="127.2" width="27.6" height="4" fill="#2a2a2a" stroke="#111" stroke-width="1.4"/>
<line x1="199.6" y1="129.2" x2="224.2" y2="129.2" stroke="#aaa" stroke-width="0.5" />
<rect x="198.1" y="163" width="27.6" height="3.5" fill="#2a2a2a" stroke="#111" stroke-width="1.4"/>
<line x1="199.6" y1="164.75" x2="224.2" y2="164.75" stroke="#aaa" stroke-width="0.5" />
<line x1="211.9" y1="98.7" x2="211.9" y2="126.9" stroke="#111" stroke-width="1.0" />
</g>
<g clip-path="url(#cRT)">
<rect x="454.4" y="107.2" width="14.8" height="8" fill="#fff" stroke="#111" stroke-width="1.7"/>
<rect x="449.8" y="115.2" width="24" height="11.7" rx="1.3" fill="#fff" stroke="#111" stroke-width="1.8"/>
<line x1="454.6" y1="115.2" x2="454.6" y2="126.9" stroke="#111" stroke-width="1.3" />
<line x1="469" y1="115.2" x2="469" y2="126.9" stroke="#111" stroke-width="1.3" />
<path d="M449.8 120.43 Q452.8 123.23 455.8 120.43" stroke="#111" stroke-width="1.5" fill="none"/>
<path d="M455.8 120.43 Q461.8 123.23 467.8 120.43" stroke="#111" stroke-width="1.5" fill="none"/>
<path d="M467.8 120.43 Q470.8 123.23 473.8 120.43" stroke="#111" stroke-width="1.5" fill="none"/>
<path d="M449.8 123.94 Q452.8 126.74 455.8 123.94" stroke="#111" stroke-width="1.5" fill="none"/>
<path d="M455.8 123.94 Q461.8 126.74 467.8 123.94" stroke="#111" stroke-width="1.5" fill="none"/>
<path d="M467.8 123.94 Q470.8 126.74 473.8 123.94" stroke="#111" stroke-width="1.5" fill="none"/>
<rect x="452.4" y="131.2" width="18.8" height="31.8" fill="#111"/>
<ellipse cx="453.3" cy="135.02" rx="2.5" ry="2.67" fill="#111"/>
<ellipse cx="470.3" cy="133.74" rx="2.5" ry="2.67" fill="#111"/>
<line x1="454.2" y1="136.29" x2="469.4" y2="131.84" stroke="#fff" stroke-width="1.4" />
<line x1="455.3" y1="133.62" x2="468.3" y2="130.18" stroke="#bbb" stroke-width="0.8" />
<ellipse cx="453.3" cy="141.38" rx="2.5" ry="2.67" fill="#111"/>
<ellipse cx="470.3" cy="140.1" rx="2.5" ry="2.67" fill="#111"/>
<line x1="454.2" y1="142.65" x2="469.4" y2="138.2" stroke="#fff" stroke-width="1.4" />
<line x1="455.3" y1="139.98" x2="468.3" y2="136.54" stroke="#bbb" stroke-width="0.8" />
<ellipse cx="453.3" cy="147.74" rx="2.5" ry="2.67" fill="#111"/>
<ellipse cx="470.3" cy="146.46" rx="2.5" ry="2.67" fill="#111"/>
<line x1="454.2" y1="149.01" x2="469.4" y2="144.56" stroke="#fff" stroke-width="1.4" />
<line x1="455.3" y1="146.34" x2="468.3" y2="142.9" stroke="#bbb" stroke-width="0.8" />
<ellipse cx="453.3" cy="154.1" rx="2.5" ry="2.67" fill="#111"/>
<ellipse cx="470.3" cy="152.82" rx="2.5" ry="2.67" fill="#111"/>
<line x1="454.2" y1="155.37" x2="469.4" y2="150.92" stroke="#fff" stroke-width="1.4" />
<line x1="455.3" y1="152.7" x2="468.3" y2="149.26" stroke="#bbb" stroke-width="0.8" />
<ellipse cx="453.3" cy="160.46" rx="2.5" ry="2.67" fill="#111"/>
<ellipse cx="470.3" cy="159.18" rx="2.5" ry="2.67" fill="#111"/>
<line x1="454.2" y1="161.73" x2="469.4" y2="157.28" stroke="#fff" stroke-width="1.4" />
<line x1="455.3" y1="159.06" x2="468.3" y2="155.62" stroke="#bbb" stroke-width="0.8" />
<rect x="448" y="127.2" width="27.6" height="4" fill="#2a2a2a" stroke="#111" stroke-width="1.4"/>
<line x1="449.5" y1="129.2" x2="474.1" y2="129.2" stroke="#aaa" stroke-width="0.5" />
<rect x="448" y="163" width="27.6" height="3.5" fill="#2a2a2a" stroke="#111" stroke-width="1.4"/>
<line x1="449.5" y1="164.75" x2="474.1" y2="164.75" stroke="#aaa" stroke-width="0.5" />
<line x1="461.8" y1="107.2" x2="461.8" y2="126.9" stroke="#111" stroke-width="1.0" />
</g>
<g>
<rect x="95.9" y="275" width="14.8" height="8" fill="#fff" stroke="#111" stroke-width="1.7"/>
<rect x="91.3" y="283" width="24" height="11.7" rx="1.3" fill="#fff" stroke="#111" stroke-width="1.8"/>
<line x1="96.1" y1="283" x2="96.1" y2="294.7" stroke="#111" stroke-width="1.3" />
<line x1="110.5" y1="283" x2="110.5" y2="294.7" stroke="#111" stroke-width="1.3" />
<rect x="93.9" y="299" width="18.8" height="51.8" fill="#111"/>
<ellipse cx="94.8" cy="302.88" rx="2.5" ry="2.72" fill="#111"/>
<ellipse cx="111.8" cy="301.59" rx="2.5" ry="2.72" fill="#111"/>
<line x1="95.7" y1="304.18" x2="110.9" y2="299.65" stroke="#fff" stroke-width="1.4" />
<line x1="96.8" y1="301.46" x2="109.8" y2="297.96" stroke="#bbb" stroke-width="0.8" />
<ellipse cx="94.8" cy="309.36" rx="2.5" ry="2.72" fill="#111"/>
<ellipse cx="111.8" cy="308.06" rx="2.5" ry="2.72" fill="#111"/>
<line x1="95.7" y1="310.65" x2="110.9" y2="306.12" stroke="#fff" stroke-width="1.4" />
<line x1="96.8" y1="307.94" x2="109.8" y2="304.44" stroke="#bbb" stroke-width="0.8" />
<ellipse cx="94.8" cy="315.83" rx="2.5" ry="2.72" fill="#111"/>
<ellipse cx="111.8" cy="314.54" rx="2.5" ry="2.72" fill="#111"/>
<line x1="95.7" y1="317.13" x2="110.9" y2="312.6" stroke="#fff" stroke-width="1.4" />
<line x1="96.8" y1="314.41" x2="109.8" y2="310.91" stroke="#bbb" stroke-width="0.8" />
<ellipse cx="94.8" cy="322.31" rx="2.5" ry="2.72" fill="#111"/>
<ellipse cx="111.8" cy="321.02" rx="2.5" ry="2.72" fill="#111"/>
<line x1="95.7" y1="323.61" x2="110.9" y2="319.07" stroke="#fff" stroke-width="1.4" />
<line x1="96.8" y1="320.89" x2="109.8" y2="317.39" stroke="#bbb" stroke-width="0.8" />
<ellipse cx="94.8" cy="328.78" rx="2.5" ry="2.72" fill="#111"/>
<ellipse cx="111.8" cy="327.49" rx="2.5" ry="2.72" fill="#111"/>
<line x1="95.7" y1="330.08" x2="110.9" y2="325.55" stroke="#fff" stroke-width="1.4" />
<line x1="96.8" y1="327.36" x2="109.8" y2="323.86" stroke="#bbb" stroke-width="0.8" />
<ellipse cx="94.8" cy="335.26" rx="2.5" ry="2.72" fill="#111"/>
<ellipse cx="111.8" cy="333.97" rx="2.5" ry="2.72" fill="#111"/>
<line x1="95.7" y1="336.56" x2="110.9" y2="332.02" stroke="#fff" stroke-width="1.4" />
<line x1="96.8" y1="333.84" x2="109.8" y2="330.34" stroke="#bbb" stroke-width="0.8" />
<ellipse cx="94.8" cy="341.73" rx="2.5" ry="2.72" fill="#111"/>
<ellipse cx="111.8" cy="340.44" rx="2.5" ry="2.72" fill="#111"/>
<line x1="95.7" y1="343.03" x2="110.9" y2="338.5" stroke="#fff" stroke-width="1.4" />
<line x1="96.8" y1="340.31" x2="109.8" y2="336.81" stroke="#bbb" stroke-width="0.8" />
<ellipse cx="94.8" cy="348.21" rx="2.5" ry="2.72" fill="#111"/>
<ellipse cx="111.8" cy="346.92" rx="2.5" ry="2.72" fill="#111"/>
<line x1="95.7" y1="349.5" x2="110.9" y2="344.97" stroke="#fff" stroke-width="1.4" />
<line x1="96.8" y1="346.79" x2="109.8" y2="343.29" stroke="#bbb" stroke-width="0.8" />
<rect x="89.5" y="295" width="27.6" height="4" fill="#2a2a2a" stroke="#111" stroke-width="1.4"/>
<line x1="91" y1="297" x2="115.6" y2="297" stroke="#aaa" stroke-width="0.5" />
<rect x="89.5" y="350.8" width="27.6" height="3.5" fill="#2a2a2a" stroke="#111" stroke-width="1.4"/>
<line x1="91" y1="352.55" x2="115.6" y2="352.55" stroke="#aaa" stroke-width="0.5" />
<line x1="103.3" y1="266.5" x2="103.3" y2="294.7" stroke="#111" stroke-width="1.0" />
</g>
<g clip-path="url(#cRB)">
<rect x="562.7" y="275" width="14.8" height="8" fill="#fff" stroke="#111" stroke-width="1.7"/>
<rect x="558.1" y="283" width="24" height="11.7" rx="1.3" fill="#fff" stroke="#111" stroke-width="1.8"/>
<line x1="562.9" y1="283" x2="562.9" y2="294.7" stroke="#111" stroke-width="1.3" />
<line x1="577.3" y1="283" x2="577.3" y2="294.7" stroke="#111" stroke-width="1.3" />
<rect x="560.7" y="299" width="18.8" height="51.8" fill="#111"/>
<ellipse cx="561.6" cy="302.88" rx="2.5" ry="2.72" fill="#111"/>
<ellipse cx="578.6" cy="301.59" rx="2.5" ry="2.72" fill="#111"/>
<line x1="562.5" y1="304.18" x2="577.7" y2="299.65" stroke="#fff" stroke-width="1.4" />
<line x1="563.6" y1="301.46" x2="576.6" y2="297.96" stroke="#bbb" stroke-width="0.8" />
<ellipse cx="561.6" cy="309.36" rx="2.5" ry="2.72" fill="#111"/>
<ellipse cx="578.6" cy="308.06" rx="2.5" ry="2.72" fill="#111"/>
<line x1="562.5" y1="310.65" x2="577.7" y2="306.12" stroke="#fff" stroke-width="1.4" />
<line x1="563.6" y1="307.94" x2="576.6" y2="304.44" stroke="#bbb" stroke-width="0.8" />
<ellipse cx="561.6" cy="315.83" rx="2.5" ry="2.72" fill="#111"/>
<ellipse cx="578.6" cy="314.54" rx="2.5" ry="2.72" fill="#111"/>
<line x1="562.5" y1="317.13" x2="577.7" y2="312.6" stroke="#fff" stroke-width="1.4" />
<line x1="563.6" y1="314.41" x2="576.6" y2="310.91" stroke="#bbb" stroke-width="0.8" />
<ellipse cx="561.6" cy="322.31" rx="2.5" ry="2.72" fill="#111"/>
<ellipse cx="578.6" cy="321.02" rx="2.5" ry="2.72" fill="#111"/>
<line x1="562.5" y1="323.61" x2="577.7" y2="319.07" stroke="#fff" stroke-width="1.4" />
<line x1="563.6" y1="320.89" x2="576.6" y2="317.39" stroke="#bbb" stroke-width="0.8" />
<ellipse cx="561.6" cy="328.78" rx="2.5" ry="2.72" fill="#111"/>
<ellipse cx="578.6" cy="327.49" rx="2.5" ry="2.72" fill="#111"/>
<line x1="562.5" y1="330.08" x2="577.7" y2="325.55" stroke="#fff" stroke-width="1.4" />
<line x1="563.6" y1="327.36" x2="576.6" y2="323.86" stroke="#bbb" stroke-width="0.8" />
<ellipse cx="561.6" cy="335.26" rx="2.5" ry="2.72" fill="#111"/>
<ellipse cx="578.6" cy="333.97" rx="2.5" ry="2.72" fill="#111"/>
<line x1="562.5" y1="336.56" x2="577.7" y2="332.02" stroke="#fff" stroke-width="1.4" />
<line x1="563.6" y1="333.84" x2="576.6" y2="330.34" stroke="#bbb" stroke-width="0.8" />
<ellipse cx="561.6" cy="341.73" rx="2.5" ry="2.72" fill="#111"/>
<ellipse cx="578.6" cy="340.44" rx="2.5" ry="2.72" fill="#111"/>
<line x1="562.5" y1="343.03" x2="577.7" y2="338.5" stroke="#fff" stroke-width="1.4" />
<line x1="563.6" y1="340.31" x2="576.6" y2="336.81" stroke="#bbb" stroke-width="0.8" />
<ellipse cx="561.6" cy="348.21" rx="2.5" ry="2.72" fill="#111"/>
<ellipse cx="578.6" cy="346.92" rx="2.5" ry="2.72" fill="#111"/>
<line x1="562.5" y1="349.5" x2="577.7" y2="344.97" stroke="#fff" stroke-width="1.4" />
<line x1="563.6" y1="346.79" x2="576.6" y2="343.29" stroke="#bbb" stroke-width="0.8" />
<rect x="556.3" y="295" width="27.6" height="4" fill="#2a2a2a" stroke="#111" stroke-width="1.4"/>
<line x1="557.8" y1="297" x2="582.4" y2="297" stroke="#aaa" stroke-width="0.5" />
<rect x="556.3" y="350.8" width="27.6" height="3.5" fill="#2a2a2a" stroke="#111" stroke-width="1.4"/>
<line x1="557.8" y1="352.55" x2="582.4" y2="352.55" stroke="#aaa" stroke-width="0.5" />
<line x1="570.1" y1="266.5" x2="570.1" y2="294.7" stroke="#111" stroke-width="1.0" />
</g>
<rect x="205.1" y="166.5" width="13.8" height="44.9" fill="#fff" stroke="none"/>
<line x1="205.1" y1="166.5" x2="205.1" y2="211.4" stroke="#111" stroke-width="1.8" />
<line x1="218.9" y1="166.5" x2="218.9" y2="211.4" stroke="#111" stroke-width="1.8" />
<line x1="207" y1="166.5" x2="207" y2="211.4" stroke="#111" stroke-width="0.9" />
<line x1="217" y1="166.5" x2="217" y2="211.4" stroke="#111" stroke-width="0.9" />
<line x1="212" y1="166.5" x2="212" y2="211.4" stroke="#111" stroke-width="1.0" />
<line x1="205.1" y1="181.3" x2="218.9" y2="181.3" stroke="#111" stroke-width="1.6" />
<line x1="205.1" y1="196.8" x2="218.9" y2="196.8" stroke="#111" stroke-width="1.6" />
<line x1="190.3" y1="181.3" x2="204.4" y2="181.3" stroke="#111" stroke-width="1.9" />
<line x1="190.3" y1="196.8" x2="204.4" y2="196.8" stroke="#111" stroke-width="1.9" />
<rect x="199.6" y="211.4" width="24.8" height="2.2" fill="#2a2a2a" stroke="#111" stroke-width="1.4"/>
<rect x="200" y="213.6" width="24" height="9" rx="1.3" fill="#fff" stroke="#111" stroke-width="1.6"/>
<line x1="204.8" y1="213.6" x2="204.8" y2="222.6" stroke="#111" stroke-width="1.3" />
<line x1="219.2" y1="213.6" x2="219.2" y2="222.6" stroke="#111" stroke-width="1.3" />
<line x1="211.5" y1="205" x2="211.5" y2="230.5" stroke="#111" stroke-width="1.0" />
<rect x="95.9" y="354.3" width="15" height="45.6" fill="#fff" stroke="none"/>
<line x1="95.9" y1="354.3" x2="95.9" y2="399.9" stroke="#111" stroke-width="1.8" />
<line x1="110.9" y1="354.3" x2="110.9" y2="399.9" stroke="#111" stroke-width="1.8" />
<line x1="97.8" y1="354.3" x2="97.8" y2="399.9" stroke="#111" stroke-width="0.9" />
<line x1="109" y1="354.3" x2="109" y2="399.9" stroke="#111" stroke-width="0.9" />
<line x1="103.4" y1="354.3" x2="103.4" y2="399.9" stroke="#111" stroke-width="1.0" />
<line x1="95.9" y1="368.9" x2="110.9" y2="368.9" stroke="#111" stroke-width="1.6" />
<line x1="95.9" y1="384.9" x2="110.9" y2="384.9" stroke="#111" stroke-width="1.6" />
<rect x="90.7" y="399.9" width="24.4" height="2.1" fill="#2a2a2a" stroke="#111" stroke-width="1.4"/>
<rect x="91.6" y="402" width="22.6" height="8.5" rx="1.3" fill="#fff" stroke="#111" stroke-width="1.6"/>
<line x1="96.12" y1="402" x2="96.12" y2="410.5" stroke="#111" stroke-width="1.3" />
<line x1="109.68" y1="402" x2="109.68" y2="410.5" stroke="#111" stroke-width="1.3" />
<line x1="102.9" y1="395" x2="102.9" y2="418" stroke="#111" stroke-width="1.0" />
<line x1="454.9" y1="181.3" x2="454.9" y2="196.8" stroke="#111" stroke-width="1.6" />
<line x1="468.2" y1="181.3" x2="468.2" y2="196.8" stroke="#111" stroke-width="1.6" />
<line x1="461.8" y1="160" x2="461.8" y2="218.8" stroke="#111" stroke-width="1.0" />
<line x1="453.8" y1="166.5" x2="453.8" y2="181.3" stroke="#444" stroke-width="1.0" />
<line x1="453.8" y1="196.8" x2="453.8" y2="211.4" stroke="#444" stroke-width="1.0" />
<line x1="469.3" y1="166.5" x2="469.3" y2="181.3" stroke="#444" stroke-width="1.0" />
<line x1="469.3" y1="196.8" x2="469.3" y2="211.4" stroke="#444" stroke-width="1.0" />
<line x1="563.8" y1="368.9" x2="563.8" y2="384.9" stroke="#111" stroke-width="1.6" />
<line x1="576.5" y1="368.9" x2="576.5" y2="384.9" stroke="#111" stroke-width="1.6" />
<line x1="570.1" y1="345" x2="570.1" y2="420" stroke="#111" stroke-width="1.0" />
<line x1="562.6" y1="354.3" x2="562.6" y2="368.9" stroke="#444" stroke-width="1.0" />
<line x1="562.6" y1="384.9" x2="562.6" y2="399.9" stroke="#444" stroke-width="1.0" />
<line x1="578.4" y1="354.3" x2="578.4" y2="368.9" stroke="#444" stroke-width="1.0" />
<line x1="578.4" y1="384.9" x2="578.4" y2="399.9" stroke="#444" stroke-width="1.0" />
<rect x="112.4" y="467" width="14.8" height="18.8" fill="#fff" stroke="none"/>
<line x1="112.4" y1="467" x2="112.4" y2="485.8" stroke="#111" stroke-width="1.8" />
<line x1="127.2" y1="467" x2="127.2" y2="485.8" stroke="#111" stroke-width="1.8" />
<line x1="114.3" y1="467" x2="114.3" y2="485.8" stroke="#111" stroke-width="0.9" />
<line x1="125.3" y1="467" x2="125.3" y2="485.8" stroke="#111" stroke-width="0.9" />
<line x1="119.8" y1="467" x2="119.8" y2="485.8" stroke="#111" stroke-width="1.0" />
<rect x="112.6" y="441.7" width="14" height="8.5" fill="#fff" stroke="#111" stroke-width="1.6"/>
<rect x="108.5" y="450.2" width="22.6" height="12" rx="1.3" fill="#fff" stroke="#111" stroke-width="1.6"/>
<line x1="113.02" y1="450.2" x2="113.02" y2="462.2" stroke="#111" stroke-width="1.3" />
<line x1="126.58" y1="450.2" x2="126.58" y2="462.2" stroke="#111" stroke-width="1.3" />
<rect x="106.8" y="462.2" width="26" height="4.8" fill="#2a2a2a" stroke="#111" stroke-width="1.4"/>
<line x1="108.3" y1="464.6" x2="131.3" y2="464.6" stroke="#aaa" stroke-width="0.5" />
<rect x="106.8" y="494.8" width="26" height="3.2" fill="#2a2a2a" stroke="#111" stroke-width="1.4"/>
<rect x="108.5" y="498" width="22.6" height="7.6" rx="1.3" fill="#fff" stroke="#111" stroke-width="1.6"/>
<line x1="113.02" y1="498" x2="113.02" y2="505.6" stroke="#111" stroke-width="1.3" />
<line x1="126.58" y1="498" x2="126.58" y2="505.6" stroke="#111" stroke-width="1.3" />
<line x1="119.6" y1="442" x2="119.6" y2="593.2" stroke="#111" stroke-width="1.0" />
<line x1="546.2" y1="467" x2="546.2" y2="485.8" stroke="#111" stroke-width="1.0" />
<line x1="561.4" y1="467" x2="561.4" y2="485.8" stroke="#111" stroke-width="1.0" />
<defs><clipPath id="cNut"><path d="M553.5 467 L592.5 399.9 L620 399.9 L620 469.0 L550.5 469.0 Z"/></clipPath></defs>
<g clip-path="url(#cNut)">
<path d="M550 461.3 L565.5 461.3 L565.5 453.5 Q565.5 450.6 562.5 450.4 L550 450.4 Z" fill="#fff" stroke="#111" stroke-width="1.6"/>
</g>
<rect x="554.6" y="463.4" width="12.7" height="3.2" fill="#333" stroke="#111" stroke-width="1.2"/>
<line x1="592.5" y1="399.9" x2="553.5" y2="467" stroke="#111" stroke-width="1.9" />
<rect x="540.8" y="494.8" width="26" height="3.2" fill="#2a2a2a" stroke="#111" stroke-width="1.4"/>
<rect x="542.5" y="498" width="22.6" height="7.6" rx="1.3" fill="#fff" stroke="#111" stroke-width="1.6"/>
<line x1="547.02" y1="498" x2="547.02" y2="505.6" stroke="#111" stroke-width="1.3" />
<line x1="560.58" y1="498" x2="560.58" y2="505.6" stroke="#111" stroke-width="1.3" />
<line x1="553.8" y1="447.4" x2="553.8" y2="593.2" stroke="#111" stroke-width="1.0" />
<text x="391.0" y="48.6" font-family="Liberation Sans, sans-serif" font-size="29.5" textLength="151.4" lengthAdjust="spacingAndGlyphs" fill="#111" stroke="#111" stroke-width="0.35">Rubber mat</text>
<path d="M503.8 54.6 L431 54.6 L415 116" fill="none" stroke="#111" stroke-width="1.3" stroke-linejoin="round" />
<path d="M412.5 126.2 L419.7 109.5 L414.3 108.1 Z" fill="#111"/>
<line x1="81.5" y1="467" x2="81.5" y2="653.8" stroke="#111" stroke-width="1.3" />
<line x1="591.6" y1="485.8" x2="591.6" y2="653.8" stroke="#111" stroke-width="1.3" />
<line x1="119.6" y1="580.4" x2="553.8" y2="580.4" stroke="#111" stroke-width="1.3" />
<path d="M119.6 580.4 L144.6 577.2 L144.6 583.6 Z" fill="#111"/>
<path d="M553.8 580.4 L528.8 577.2 L528.8 583.6 Z" fill="#111"/>
<line x1="81.5" y1="640.4" x2="591.6" y2="640.4" stroke="#111" stroke-width="1.3" />
<path d="M81.5 640.4 L106.5 637.2 L106.5 643.6 Z" fill="#111"/>
<path d="M591.6 640.4 L566.6 637.2 L566.6 643.6 Z" fill="#111"/>
<text x="323.2" y="563.7" textLength="30.8" font-family="Liberation Serif, serif" font-size="30" fill="#111" stroke="#111" stroke-width="0.3" lengthAdjust="spacingAndGlyphs">L1</text>
<text x="323.2" y="623.5" textLength="32.6" font-family="Liberation Serif, serif" font-size="30" fill="#111" stroke="#111" stroke-width="0.3" lengthAdjust="spacingAndGlyphs">L2</text>
<text x="763.7" y="562.9" textLength="31.3" font-family="Liberation Serif, serif" font-size="30" fill="#111" stroke="#111" stroke-width="0.3" lengthAdjust="spacingAndGlyphs">L3</text>
<line x1="722.8" y1="485" x2="722.8" y2="593.3" stroke="#111" stroke-width="1.3" />
<line x1="830.7" y1="485" x2="830.7" y2="593.3" stroke="#111" stroke-width="1.3" />
<line x1="722.8" y1="580.2" x2="830.7" y2="580.2" stroke="#111" stroke-width="1.3" />
<path d="M722.8 580.2 L747.8 577 L747.8 583.4 Z" fill="#111"/>
<path d="M830.7 580.2 L805.7 577 L805.7 583.4 Z" fill="#111"/>
<path d="M722.3 80.7 L830.9 80.7 L830.9 181.5 L722.3 181.5 Z" fill="none" stroke="#111" stroke-width="1.9" stroke-linejoin="round" />
<path d="M732.8 80.7 L732.8 161 Q732.8 167 738.8 167 L814.1 167 Q820.1 167 820.1 161 L820.1 80.7" fill="none" stroke="#111" stroke-width="1.9" stroke-linejoin="round" />
<line x1="718.8" y1="189.2" x2="833.8" y2="189.2" stroke="#111" stroke-width="1.6" />
<path d="M722.3 197.3 L830.9 197.3 L830.9 368.6 L722.3 368.6 Z" fill="none" stroke="#111" stroke-width="1.9" stroke-linejoin="round" />
<rect x="732.8" y="212" width="87.3" height="142.9" rx="6" fill="none" stroke="#111" stroke-width="1.9"/>
<line x1="718.8" y1="377.1" x2="833.8" y2="377.1" stroke="#111" stroke-width="1.6" />
<path d="M722.3 485 L722.3 385.3 L830.9 385.3 L830.9 485" fill="none" stroke="#111" stroke-width="1.9" stroke-linejoin="round" />
<path d="M732.8 467.1 L732.8 405.6 Q732.8 399.6 738.8 399.6 L814.1 399.6 Q820.1 399.6 820.1 405.6 L820.1 467.1" fill="none" stroke="#111" stroke-width="1.9" stroke-linejoin="round" />
<line x1="722.3" y1="467.1" x2="830.9" y2="467.1" stroke="#111" stroke-width="1.9" />
<path d="M706.7 484.8 L847.5 484.8" fill="none" stroke="#111" stroke-width="2.0" stroke-linejoin="round" />
<path d="M708 494.5 L847.5 494.5" fill="none" stroke="#111" stroke-width="2.0" stroke-linejoin="round" />
<path d="M706.7 484.8 C710 487 710.5 489 708 490.5 C706.5 491.5 707 493 708 494.5" fill="none" stroke="#111" stroke-width="1.3" stroke-linejoin="round" />
<path d="M847.5 484.8 C844 487.5 844 491.5 847.5 494.5" fill="none" stroke="#111" stroke-width="1.3" stroke-linejoin="round" />
<line x1="769.3" y1="167" x2="769.3" y2="212" stroke="#111" stroke-width="1.5" />
<line x1="783.9" y1="167" x2="783.9" y2="212" stroke="#111" stroke-width="1.5" />
<line x1="778.2" y1="167" x2="778.2" y2="212" stroke="#555" stroke-width="0.8" />
<line x1="770.2" y1="181.5" x2="770.2" y2="197.3" stroke="#111" stroke-width="1.7" />
<line x1="783" y1="181.5" x2="783" y2="197.3" stroke="#111" stroke-width="1.7" />
<line x1="769.3" y1="355" x2="769.3" y2="399.6" stroke="#111" stroke-width="1.5" />
<line x1="783.9" y1="355" x2="783.9" y2="399.6" stroke="#111" stroke-width="1.5" />
<line x1="778.2" y1="355" x2="778.2" y2="399.6" stroke="#555" stroke-width="0.8" />
<line x1="770.2" y1="368.6" x2="770.2" y2="385.3" stroke="#111" stroke-width="1.7" />
<line x1="783" y1="368.6" x2="783" y2="385.3" stroke="#111" stroke-width="1.7" />
<g>
<rect x="769.2" y="107" width="14.8" height="8" fill="#fff" stroke="#111" stroke-width="1.7"/>
<rect x="764.6" y="115" width="24" height="11.7" rx="1.3" fill="#fff" stroke="#111" stroke-width="1.8"/>
<line x1="769.4" y1="115" x2="769.4" y2="126.7" stroke="#111" stroke-width="1.3" />
<line x1="783.8" y1="115" x2="783.8" y2="126.7" stroke="#111" stroke-width="1.3" />
<rect x="767.2" y="131" width="18.8" height="32.5" fill="#111"/>
<ellipse cx="768.1" cy="134.9" rx="2.5" ry="2.73" fill="#111"/>
<ellipse cx="785.1" cy="133.6" rx="2.5" ry="2.73" fill="#111"/>
<line x1="769" y1="136.2" x2="784.2" y2="131.65" stroke="#fff" stroke-width="1.4" />
<line x1="770.1" y1="133.47" x2="783.1" y2="129.96" stroke="#bbb" stroke-width="0.8" />
<ellipse cx="768.1" cy="141.4" rx="2.5" ry="2.73" fill="#111"/>
<ellipse cx="785.1" cy="140.1" rx="2.5" ry="2.73" fill="#111"/>
<line x1="769" y1="142.7" x2="784.2" y2="138.15" stroke="#fff" stroke-width="1.4" />
<line x1="770.1" y1="139.97" x2="783.1" y2="136.46" stroke="#bbb" stroke-width="0.8" />
<ellipse cx="768.1" cy="147.9" rx="2.5" ry="2.73" fill="#111"/>
<ellipse cx="785.1" cy="146.6" rx="2.5" ry="2.73" fill="#111"/>
<line x1="769" y1="149.2" x2="784.2" y2="144.65" stroke="#fff" stroke-width="1.4" />
<line x1="770.1" y1="146.47" x2="783.1" y2="142.96" stroke="#bbb" stroke-width="0.8" />
<ellipse cx="768.1" cy="154.4" rx="2.5" ry="2.73" fill="#111"/>
<ellipse cx="785.1" cy="153.1" rx="2.5" ry="2.73" fill="#111"/>
<line x1="769" y1="155.7" x2="784.2" y2="151.15" stroke="#fff" stroke-width="1.4" />
<line x1="770.1" y1="152.97" x2="783.1" y2="149.46" stroke="#bbb" stroke-width="0.8" />
<ellipse cx="768.1" cy="160.9" rx="2.5" ry="2.73" fill="#111"/>
<ellipse cx="785.1" cy="159.6" rx="2.5" ry="2.73" fill="#111"/>
<line x1="769" y1="162.2" x2="784.2" y2="157.65" stroke="#fff" stroke-width="1.4" />
<line x1="770.1" y1="159.47" x2="783.1" y2="155.96" stroke="#bbb" stroke-width="0.8" />
<rect x="762.8" y="127" width="27.6" height="4" fill="#2a2a2a" stroke="#111" stroke-width="1.4"/>
<line x1="764.3" y1="129" x2="788.9" y2="129" stroke="#aaa" stroke-width="0.5" />
<rect x="762.8" y="163.5" width="27.6" height="3.5" fill="#2a2a2a" stroke="#111" stroke-width="1.4"/>
<line x1="764.3" y1="165.25" x2="788.9" y2="165.25" stroke="#aaa" stroke-width="0.5" />
<line x1="776.6" y1="98.5" x2="776.6" y2="126.7" stroke="#111" stroke-width="1.0" />
</g>
<g>
<rect x="769.2" y="275.2" width="14.8" height="8" fill="#fff" stroke="#111" stroke-width="1.7"/>
<rect x="764.6" y="283.2" width="24" height="11.7" rx="1.3" fill="#fff" stroke="#111" stroke-width="1.8"/>
<line x1="769.4" y1="283.2" x2="769.4" y2="294.9" stroke="#111" stroke-width="1.3" />
<line x1="783.8" y1="283.2" x2="783.8" y2="294.9" stroke="#111" stroke-width="1.3" />
<rect x="767.2" y="299.2" width="18.8" height="52.3" fill="#111"/>
<ellipse cx="768.1" cy="303.12" rx="2.5" ry="2.75" fill="#111"/>
<ellipse cx="785.1" cy="301.81" rx="2.5" ry="2.75" fill="#111"/>
<line x1="769" y1="304.43" x2="784.2" y2="299.85" stroke="#fff" stroke-width="1.4" />
<line x1="770.1" y1="301.68" x2="783.1" y2="298.15" stroke="#bbb" stroke-width="0.8" />
<ellipse cx="768.1" cy="309.66" rx="2.5" ry="2.75" fill="#111"/>
<ellipse cx="785.1" cy="308.35" rx="2.5" ry="2.75" fill="#111"/>
<line x1="769" y1="310.97" x2="784.2" y2="306.39" stroke="#fff" stroke-width="1.4" />
<line x1="770.1" y1="308.22" x2="783.1" y2="304.69" stroke="#bbb" stroke-width="0.8" />
<ellipse cx="768.1" cy="316.2" rx="2.5" ry="2.75" fill="#111"/>
<ellipse cx="785.1" cy="314.89" rx="2.5" ry="2.75" fill="#111"/>
<line x1="769" y1="317.5" x2="784.2" y2="312.93" stroke="#fff" stroke-width="1.4" />
<line x1="770.1" y1="314.76" x2="783.1" y2="311.23" stroke="#bbb" stroke-width="0.8" />
<ellipse cx="768.1" cy="322.74" rx="2.5" ry="2.75" fill="#111"/>
<ellipse cx="785.1" cy="321.43" rx="2.5" ry="2.75" fill="#111"/>
<line x1="769" y1="324.04" x2="784.2" y2="319.47" stroke="#fff" stroke-width="1.4" />
<line x1="770.1" y1="321.3" x2="783.1" y2="317.77" stroke="#bbb" stroke-width="0.8" />
<ellipse cx="768.1" cy="329.27" rx="2.5" ry="2.75" fill="#111"/>
<ellipse cx="785.1" cy="327.96" rx="2.5" ry="2.75" fill="#111"/>
<line x1="769" y1="330.58" x2="784.2" y2="326" stroke="#fff" stroke-width="1.4" />
<line x1="770.1" y1="327.83" x2="783.1" y2="324.3" stroke="#bbb" stroke-width="0.8" />
<ellipse cx="768.1" cy="335.81" rx="2.5" ry="2.75" fill="#111"/>
<ellipse cx="785.1" cy="334.5" rx="2.5" ry="2.75" fill="#111"/>
<line x1="769" y1="337.12" x2="784.2" y2="332.54" stroke="#fff" stroke-width="1.4" />
<line x1="770.1" y1="334.37" x2="783.1" y2="330.84" stroke="#bbb" stroke-width="0.8" />
<ellipse cx="768.1" cy="342.35" rx="2.5" ry="2.75" fill="#111"/>
<ellipse cx="785.1" cy="341.04" rx="2.5" ry="2.75" fill="#111"/>
<line x1="769" y1="343.66" x2="784.2" y2="339.08" stroke="#fff" stroke-width="1.4" />
<line x1="770.1" y1="340.91" x2="783.1" y2="337.38" stroke="#bbb" stroke-width="0.8" />
<ellipse cx="768.1" cy="348.88" rx="2.5" ry="2.75" fill="#111"/>
<ellipse cx="785.1" cy="347.58" rx="2.5" ry="2.75" fill="#111"/>
<line x1="769" y1="350.19" x2="784.2" y2="345.62" stroke="#fff" stroke-width="1.4" />
<line x1="770.1" y1="347.45" x2="783.1" y2="343.92" stroke="#bbb" stroke-width="0.8" />
<rect x="762.8" y="295.2" width="27.6" height="4" fill="#2a2a2a" stroke="#111" stroke-width="1.4"/>
<line x1="764.3" y1="297.2" x2="788.9" y2="297.2" stroke="#aaa" stroke-width="0.5" />
<rect x="762.8" y="351.5" width="27.6" height="3.5" fill="#2a2a2a" stroke="#111" stroke-width="1.4"/>
<line x1="764.3" y1="353.25" x2="788.9" y2="353.25" stroke="#aaa" stroke-width="0.5" />
<line x1="776.6" y1="266.7" x2="776.6" y2="294.9" stroke="#111" stroke-width="1.0" />
</g>
<rect x="763.1" y="212" width="27" height="2.8" fill="#2a2a2a" stroke="#111" stroke-width="1.4"/>
<rect x="764.8" y="214.8" width="23.6" height="7.9" rx="1.3" fill="#fff" stroke="#111" stroke-width="1.6"/>
<line x1="769.52" y1="214.8" x2="769.52" y2="222.7" stroke="#111" stroke-width="1.3" />
<line x1="783.68" y1="214.8" x2="783.68" y2="222.7" stroke="#111" stroke-width="1.3" />
<rect x="763.1" y="399.6" width="27" height="2.8" fill="#2a2a2a" stroke="#111" stroke-width="1.4"/>
<rect x="764.8" y="402.4" width="23.6" height="8.1" rx="1.3" fill="#fff" stroke="#111" stroke-width="1.6"/>
<line x1="769.52" y1="402.4" x2="769.52" y2="410.5" stroke="#111" stroke-width="1.3" />
<line x1="783.68" y1="402.4" x2="783.68" y2="410.5" stroke="#111" stroke-width="1.3" />
<rect x="769.9" y="441.9" width="13.7" height="8.5" fill="#fff" stroke="#111" stroke-width="1.6"/>
<rect x="764.8" y="450.4" width="23.6" height="13.6" rx="1.3" fill="#fff" stroke="#111" stroke-width="1.6"/>
<line x1="769.52" y1="450.4" x2="769.52" y2="464" stroke="#111" stroke-width="1.3" />
<line x1="783.68" y1="450.4" x2="783.68" y2="464" stroke="#111" stroke-width="1.3" />
<rect x="763.1" y="464" width="27" height="3.7" fill="#2a2a2a" stroke="#111" stroke-width="1.4"/>
<line x1="764.6" y1="465.85" x2="788.6" y2="465.85" stroke="#aaa" stroke-width="0.5" />
<rect x="763.1" y="494.5" width="27" height="3.3" fill="#2a2a2a" stroke="#111" stroke-width="1.4"/>
<line x1="764.6" y1="496.15" x2="788.6" y2="496.15" stroke="#aaa" stroke-width="0.5" />
<rect x="764.8" y="497.8" width="23.6" height="8.9" rx="1.3" fill="#fff" stroke="#111" stroke-width="1.6"/>
<line x1="769.52" y1="497.8" x2="769.52" y2="506.7" stroke="#111" stroke-width="1.3" />
<line x1="783.68" y1="497.8" x2="783.68" y2="506.7" stroke="#111" stroke-width="1.3" />
<line x1="776.6" y1="76.7" x2="776.6" y2="511" stroke="#111" stroke-width="1.0" />
</svg>
</body></html>
